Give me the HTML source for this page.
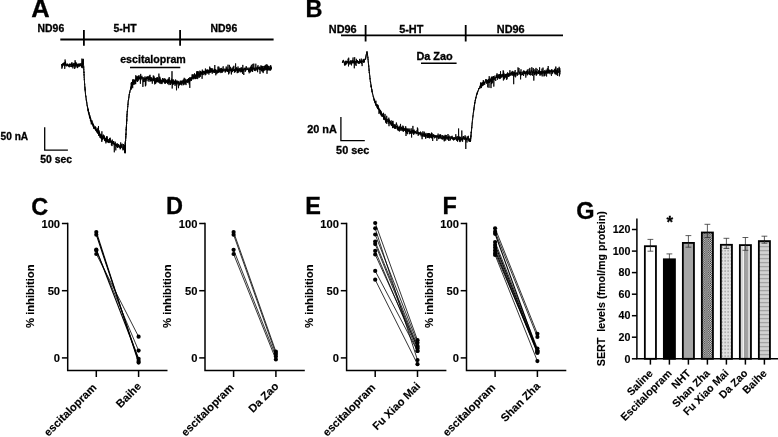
<!DOCTYPE html><html><head><meta charset="utf-8"><title>Figure</title>
<style>html,body{margin:0;padding:0;background:#fff;overflow:hidden}svg{display:block}text{font-family:"Liberation Sans",Arial,sans-serif;font-weight:bold;fill:#000;stroke:#000;stroke-width:0.3px}.t text,text.t{stroke-width:0.12px}</style></head><body>
<svg width="778" height="437" viewBox="0 0 778 437">
<rect width="778" height="437" fill="#fff"/>
<defs>
<pattern id="pchk" width="2.2" height="2.2" patternUnits="userSpaceOnUse" x="0.3"><rect width="2.2" height="2.2" fill="#e8e8e8"/><rect width="1.1" height="1.1" fill="#222"/><rect x="1.1" y="1.1" width="1.1" height="1.1" fill="#222"/></pattern>
<pattern id="pdot" width="3" height="3.4" patternUnits="userSpaceOnUse" x="0.6" y="0.8"><rect width="3" height="3.4" fill="#e0e0e0"/><rect x="1" y="1.2" width="1" height="1" fill="#5a5a5a"/></pattern>
<linearGradient id="gvs" x1="0" x2="1" y1="0" y2="0"><stop offset="0" stop-color="#d6d6d6"/><stop offset="0.27" stop-color="#d6d6d6"/><stop offset="0.27" stop-color="#f2f2f2"/><stop offset="0.36" stop-color="#f2f2f2"/><stop offset="0.36" stop-color="#9c9c9c"/><stop offset="0.72" stop-color="#a4a4a4"/><stop offset="0.72" stop-color="#d2d2d2"/><stop offset="1" stop-color="#d2d2d2"/></linearGradient>
<pattern id="phs" width="4" height="4" patternUnits="userSpaceOnUse" y="0.9"><rect width="4" height="4" fill="#d2d2d2"/><rect width="4" height="0.7" fill="#f6f6f6"/><rect y="0.7" width="4" height="1.6" fill="#a0a0a0"/></pattern>
</defs>
<text x="31.2" y="17.2" font-size="25.5">A</text>
<text x="305.6" y="17.2" font-size="23.5">B</text>
<text x="31.3" y="214.5" font-size="23.5">C</text>
<text x="166.0" y="214.3" font-size="23.5">D</text>
<text x="305.3" y="214.3" font-size="23.5">E</text>
<text x="442.6" y="214.3" font-size="23.5">F</text>
<text x="576.2" y="218.6" font-size="23.5">G</text>
<g font-size="10.4">
<text x="37.6" y="32.3">ND96</text>
<text x="113.4" y="32.3">5-HT</text>
<text x="210.6" y="32.3">ND96</text>
<text x="120.2" y="62.8" font-size="10.65">escitalopram</text>
<text x="0.6" y="139.9" font-size="10.1">50 nA</text>
<text x="40.2" y="162.9">50 sec</text>
</g>
<g stroke="#000" stroke-width="1.8" fill="none">
<path d="M60.3 39.5H273.6M83.9 30V45.7M180.1 30V45.7"/>
<path d="M130 67.5H180.3" stroke-width="1.6"/>
<path d="M44.7 127.3V150.1H67.9" stroke-width="1.3"/>
</g>
<polyline points="61.5,64.5 61.9,65.1 62.3,64.7 62.7,64.4 63.1,65.0 63.5,63.2 63.9,63.8 64.3,63.8 64.7,64.5 65.1,64.4 65.5,64.6 65.9,65.1 66.3,65.4 66.7,65.2 67.1,63.7 67.5,65.3 67.9,64.7 68.3,66.2 68.7,65.4 69.1,64.8 69.5,64.7 69.9,63.9 70.3,64.9 70.7,63.8 71.1,65.1 71.5,63.2 71.9,62.5 72.3,66.1 72.7,66.1 73.1,65.9 73.5,63.2 73.9,63.5 74.3,63.5 74.7,63.3 75.1,65.0 75.5,64.4 75.9,64.8 76.3,64.4 76.7,64.1 77.1,66.6 77.5,65.3 77.9,63.9 78.3,65.9 78.7,64.2 79.1,64.6 79.5,66.0 79.9,64.1 80.3,64.3 80.7,64.5 81.1,66.3 81.5,66.5 81.9,65.0 82.3,66.4 82.4,63.2 82.4,63.8 82.5,64.7 82.5,63.2 82.6,62.8 82.7,62.4 82.7,62.1 82.8,61.6 82.9,61.0 82.9,60.8 83.0,60.2 83.0,60.1 83.1,59.4 83.2,59.1 83.2,59.3 83.2,59.6 83.3,60.3 83.3,60.4 83.3,60.4 83.3,61.3 83.3,61.6 83.4,61.9 83.4,62.2 83.4,62.7 83.4,63.2 83.4,63.6 83.5,64.0 83.5,64.4 83.5,64.8 83.5,65.0 83.6,65.6 83.6,66.0 83.6,66.6 83.6,66.8 83.6,67.0 83.7,67.7 83.7,68.1 83.7,68.3 83.7,68.6 83.8,69.6 83.8,69.3 83.8,69.9 83.8,70.4 83.8,70.6 83.9,71.1 83.9,71.6 83.9,71.9 83.9,72.2 84.0,72.7 84.0,73.1 84.0,73.7 84.0,73.8 84.0,74.6 84.1,74.5 84.1,75.3 84.1,75.9 84.1,76.1 84.2,76.3 84.2,77.0 84.2,77.3 84.2,77.6 84.3,77.9 84.3,78.3 84.3,78.7 84.3,79.5 84.3,79.6 84.4,80.0 84.4,80.3 84.4,80.8 84.4,81.1 84.5,81.5 84.5,82.0 84.5,82.3 84.5,82.8 84.6,83.1 84.6,83.5 84.6,84.0 84.6,84.5 84.7,84.4 84.7,85.1 84.7,85.5 84.8,85.9 84.8,86.5 84.8,86.8 84.9,87.1 84.9,87.4 85.0,88.0 85.0,88.1 85.0,88.7 85.1,89.1 85.1,89.5 85.1,89.9 85.2,90.2 85.2,90.6 85.2,91.1 85.3,91.4 85.3,92.1 85.4,92.4 85.4,92.6 85.4,93.2 85.5,93.5 85.5,94.0 85.5,94.5 85.6,94.8 85.6,95.0 85.7,95.6 85.7,95.9 85.8,96.4 85.9,96.7 85.9,96.9 86.0,97.0 86.0,97.8 86.1,98.2 86.2,98.6 86.2,99.4 86.3,99.5 86.3,100.0 86.4,100.1 86.4,100.8 86.5,100.9 86.6,101.2 86.6,101.8 86.7,102.2 86.7,102.5 86.8,103.2 86.9,103.4 86.9,103.6 87.0,103.5 87.0,104.7 87.1,105.1 87.2,105.5 87.3,105.7 87.4,106.1 87.4,106.7 87.5,106.9 87.6,107.4 87.7,107.9 87.8,108.3 87.8,108.4 87.9,108.9 88.0,109.4 88.1,109.5 88.2,110.5 88.3,109.6 88.3,111.1 88.4,111.1 88.5,112.8 88.6,112.1 88.7,112.2 88.8,112.7 88.8,112.7 88.9,113.9 89.0,113.9 89.1,114.3 89.2,115.0 89.4,115.4 89.5,115.4 89.6,115.5 89.7,116.9 89.8,116.9 89.9,117.2 90.0,117.9 90.2,117.8 90.3,119.0 90.4,118.6 90.5,118.9 90.6,119.5 90.7,119.6 90.8,120.1 91.0,120.6 91.1,120.6 91.2,121.6 91.3,121.7 91.5,123.1 91.7,122.1 91.9,122.4 92.1,122.7 92.2,123.7 92.4,124.0 92.6,123.7 92.8,125.1 93.0,124.0 93.1,124.8 93.3,125.4 93.5,126.0 93.7,125.8 93.9,127.5 94.0,127.8 94.3,127.5 94.5,127.8 94.8,128.0 95.0,128.4 95.2,129.2 95.5,129.6 95.7,129.7 95.9,129.4 96.2,129.0 96.4,129.1 96.7,130.8 96.9,129.9 97.1,130.9 97.4,132.4 97.6,132.2 97.9,132.3 98.1,132.6 98.4,133.3 98.6,133.7 98.9,131.8 99.2,132.8 99.4,132.6 99.7,134.3 99.9,136.4 100.2,135.1 100.5,135.3 100.7,136.4 101.0,137.6 101.3,135.5 101.5,134.6 101.8,141.8 102.1,136.7 102.4,136.1 102.7,138.6 103.1,135.5 103.4,137.5 103.8,135.0 104.1,139.2 104.4,137.8 104.8,138.8 105.1,139.7 105.4,139.0 105.8,141.5 106.1,139.4 106.5,136.4 106.8,140.7 107.1,141.0 107.5,141.3 107.8,139.0 108.2,140.3 108.5,140.9 108.9,142.0 109.2,141.2 109.6,142.7 109.9,142.5 110.3,142.5 110.6,141.3 111.0,140.5 111.3,142.6 111.7,143.9 112.0,143.7 112.4,142.2 112.7,143.9 113.1,143.5 113.5,144.1 113.8,142.6 114.2,143.0 114.6,143.9 114.9,145.3 115.3,144.1 115.7,144.7 116.0,146.0 116.4,144.4 116.8,144.6 117.1,144.6 117.5,147.8 117.9,145.1 118.2,144.4 118.6,144.4 119.0,146.3 119.3,146.4 119.7,146.9 120.1,147.7 120.4,146.9 120.8,145.8 121.2,145.2 121.5,147.4 121.9,148.0 122.3,148.4 122.6,148.2 123.0,147.2 123.4,148.5 123.7,146.5 124.1,146.9 124.5,146.7 124.6,149.6 124.7,149.9 124.7,150.3 124.8,151.6 124.9,149.3 125.0,151.1 125.0,150.4 125.0,149.7 125.1,150.7 125.1,149.2 125.1,148.1 125.1,150.3 125.1,147.9 125.2,147.8 125.2,148.3 125.2,147.1 125.2,146.7 125.3,146.4 125.3,146.2 125.3,145.3 125.3,145.4 125.3,144.9 125.4,144.4 125.4,144.1 125.4,143.4 125.4,143.2 125.4,142.9 125.5,142.4 125.5,141.7 125.5,141.5 125.5,140.9 125.6,140.6 125.6,140.2 125.6,140.1 125.6,139.8 125.6,139.1 125.7,138.9 125.7,138.3 125.7,137.8 125.7,138.0 125.8,137.5 125.8,137.0 125.8,136.0 125.8,135.9 125.9,135.6 125.9,135.2 125.9,134.6 125.9,134.8 126.0,133.6 126.0,133.6 126.0,133.0 126.0,132.7 126.1,132.4 126.1,131.8 126.1,131.6 126.1,130.9 126.2,130.4 126.2,130.4 126.2,129.7 126.2,129.6 126.2,128.9 126.3,128.6 126.3,128.4 126.3,127.8 126.3,127.9 126.4,127.2 126.4,127.0 126.4,126.2 126.4,126.2 126.4,125.6 126.5,125.3 126.5,124.7 126.5,124.6 126.5,124.3 126.5,123.4 126.6,123.0 126.6,123.5 126.6,122.2 126.6,121.9 126.6,121.5 126.7,120.9 126.7,120.7 126.7,120.3 126.7,119.6 126.8,119.7 126.8,119.2 126.8,118.3 126.8,118.4 126.8,118.3 126.9,117.4 126.9,117.2 126.9,117.1 126.9,116.0 126.9,116.2 127.0,115.9 127.0,115.4 127.0,114.6 127.1,114.7 127.1,113.9 127.1,113.8 127.2,113.4 127.2,112.7 127.2,112.4 127.3,111.8 127.3,111.4 127.3,111.1 127.4,110.8 127.4,110.3 127.5,109.9 127.5,109.6 127.5,109.1 127.6,108.8 127.6,108.3 127.6,108.2 127.7,107.8 127.7,107.4 127.7,106.6 127.8,106.5 127.8,105.9 127.9,105.6 127.9,105.3 127.9,104.9 128.0,104.3 128.0,104.2 128.0,104.1 128.1,103.4 128.1,102.7 128.1,102.4 128.2,102.0 128.2,101.5 128.3,101.1 128.3,100.8 128.4,100.3 128.5,99.8 128.5,99.6 128.6,99.2 128.6,99.0 128.7,98.7 128.8,97.8 128.8,97.7 128.9,97.4 128.9,96.7 129.0,96.4 129.0,96.1 129.1,95.6 129.2,95.4 129.2,95.2 129.3,94.8 129.3,94.0 129.4,93.6 129.5,93.5 129.5,92.9 129.6,92.5 129.7,92.3 129.8,91.6 129.9,91.6 130.0,90.9 130.1,90.6 130.3,90.1 130.4,89.9 130.5,89.3 130.6,88.7 130.7,88.5 130.8,88.3 130.9,87.6 131.0,87.6 131.1,88.9 131.2,86.4 131.3,87.1 131.5,85.6 131.7,86.6 131.8,85.0 132.0,82.6 132.2,84.0 132.4,85.5 132.6,83.7 132.8,82.7 132.9,83.4 133.2,81.3 133.5,84.3 133.8,81.3 134.1,82.6 134.4,82.5 134.7,81.2 135.0,79.9 135.4,81.1 135.6,80.7 135.9,80.4 136.2,78.2 136.5,79.9 136.8,79.3 137.1,79.3 137.4,79.0 137.7,78.1 138.0,77.1 138.3,79.0 138.7,75.5 139.0,77.0 139.4,77.8 139.8,79.4 140.1,78.1 140.5,78.4 140.9,77.0 141.3,76.8 141.6,78.1 142.0,78.0 142.4,78.0 142.8,78.3 143.2,77.7 143.6,78.1 144.0,78.2 144.3,80.0 144.7,78.3 145.1,78.6 145.5,79.4 145.9,79.5 146.3,79.5 146.7,76.9 147.1,78.6 147.5,78.6 147.9,78.4 148.3,79.2 148.7,79.9 149.1,79.4 149.5,78.5 149.9,78.5 150.3,77.5 150.7,77.0 151.1,80.7 151.5,79.4 151.9,77.8 152.3,79.1 152.7,79.8 153.1,79.9 153.5,78.3 153.9,79.2 154.3,81.1 154.7,82.9 155.0,79.8 155.4,78.6 155.8,79.1 156.2,79.2 156.6,79.7 157.0,82.3 157.4,82.0 157.8,78.1 158.2,80.1 158.6,80.6 159.0,80.0 159.4,80.1 159.8,80.1 160.2,82.0 160.6,81.0 161.0,79.9 161.4,82.6 161.8,81.7 162.2,79.4 162.6,78.1 163.0,80.9 163.4,81.4 163.8,79.7 164.2,82.3 164.6,81.5 165.0,83.3 165.4,79.7 165.8,79.5 166.2,81.7 166.6,81.2 167.0,82.3 167.4,80.6 167.8,82.4 168.2,78.8 168.5,80.5 168.9,82.1 169.3,80.0 169.7,80.6 170.1,81.5 170.5,82.5 170.9,83.2 171.3,81.0 171.7,81.0 172.1,84.0 172.5,84.8 172.9,81.9 173.3,81.8 173.7,83.1 174.1,83.4 174.5,81.1 174.9,84.0 175.3,80.9 175.7,82.1 176.1,80.5 176.5,83.9 176.9,84.5 177.3,83.6 177.7,81.9 178.1,83.3 178.5,81.3 178.9,83.2 179.3,84.3 179.7,83.3 180.1,81.7 180.5,84.1 180.9,81.9 181.3,82.3 181.7,83.5 182.1,81.1 182.4,82.7 182.8,82.3 183.2,80.8 183.6,82.0 184.0,82.0 184.4,82.1 184.8,82.2 185.1,82.7 185.5,82.7 185.9,81.0 186.3,81.0 186.6,81.7 187.0,79.7 187.4,81.2 187.7,79.5 188.1,80.2 188.5,78.3 188.8,80.9 189.2,78.3 189.5,79.6 189.9,79.1 190.3,80.3 190.6,79.0 190.9,79.8 191.3,78.4 191.6,77.7 191.9,79.1 192.3,77.0 192.6,75.7 193.0,74.9 193.3,78.2 193.6,78.1 194.0,76.2 194.3,77.6 194.7,77.9 195.0,76.4 195.4,75.4 195.7,78.9 196.1,74.9 196.5,76.0 196.8,74.6 197.2,72.9 197.5,74.7 197.9,74.3 198.3,75.3 198.6,74.4 199.0,73.8 199.4,75.6 199.8,73.5 200.2,72.5 200.5,72.7 200.9,72.3 201.3,72.1 201.7,73.9 202.0,72.7 202.4,73.6 202.8,73.3 203.2,71.2 203.6,72.4 204.0,71.7 204.4,71.8 204.7,74.0 205.1,74.2 205.5,73.2 205.9,69.8 206.3,73.1 206.7,72.8 207.1,73.3 207.4,71.2 207.8,70.0 208.2,70.3 208.6,72.7 209.0,73.0 209.4,72.6 209.8,70.7 210.2,71.8 210.6,72.2 211.0,70.5 211.4,72.1 211.8,70.8 212.2,71.0 212.6,70.1 213.0,72.0 213.4,70.0 213.8,71.4 214.2,68.9 214.6,69.7 215.0,70.4 215.4,71.7 215.8,70.7 216.2,70.8 216.6,71.2 217.0,71.5 217.4,71.0 217.8,70.8 218.2,69.6 218.6,72.2 219.0,68.8 219.4,69.0 219.8,70.7 220.2,70.7 220.6,69.9 221.0,71.4 221.4,69.2 221.8,69.5 222.2,71.5 222.6,69.0 223.0,71.4 223.4,70.4 223.8,70.8 224.2,70.3 224.6,70.8 225.0,71.2 225.4,68.9 225.8,68.8 226.2,71.2 226.6,70.0 227.0,69.1 227.4,71.5 227.8,69.4 228.2,70.6 228.6,69.6 229.0,70.6 229.4,68.5 229.8,68.7 230.2,71.2 230.6,68.8 231.0,71.6 231.4,74.4 231.8,68.8 232.2,70.3 232.6,70.8 233.0,69.6 233.4,71.0 233.8,69.2 234.2,69.2 234.6,71.7 235.0,71.1 235.4,69.4 235.8,68.4 236.2,70.5 236.6,70.7 237.0,70.5 237.4,70.7 237.8,69.4 238.2,69.9 238.6,69.8 239.0,71.5 239.4,70.9 239.8,69.0 240.2,69.8 240.6,70.4 241.0,70.1 241.4,69.5 241.8,70.3 242.2,69.5 242.6,69.4 243.0,71.1 243.4,68.6 243.8,70.2 244.2,69.5 244.6,69.3 245.0,68.6 245.4,70.5 245.8,70.5 246.2,68.9 246.6,69.4 247.0,69.8 247.4,68.9 247.8,68.3 248.2,69.1 248.6,70.9 249.0,67.6 249.4,68.0 249.8,68.2 250.2,69.1 250.6,67.7 251.0,69.4 251.4,67.0 251.8,70.4 252.2,68.5 252.6,71.8 253.0,68.0 253.4,68.3 253.8,69.0 254.2,69.1 254.6,68.3 255.0,70.0 255.4,68.4 255.8,68.4 256.2,68.4 256.6,68.0 257.0,70.6 257.4,68.8 257.8,69.3 258.2,67.7 258.6,67.7 259.0,68.2 259.4,67.6 259.8,69.1 260.2,69.7 260.6,69.6 261.0,65.4 261.4,70.8 261.8,69.3 262.2,69.6 262.6,70.2 263.0,69.0 263.4,68.7 263.8,68.5 264.2,69.7 264.6,67.2 265.0,65.5 265.4,67.1 265.8,66.1 266.2,68.1 266.6,69.5 267.0,68.1 267.4,67.6 267.8,70.5 268.2,69.5 268.6,69.3 269.0,68.0 269.4,69.2 269.8,69.7 270.2,67.0 270.6,67.5 271.0,67.0 271.4,69.2" fill="none" stroke="#000" stroke-width="1" stroke-linejoin="round"/>
<polyline points="61.5,65.5 61.7,64.3 61.9,68.7 62.1,64.4 62.3,65.0 62.5,67.3 62.7,63.3 62.9,63.9 63.1,65.5 63.3,64.3 63.5,62.9 63.7,64.5 63.9,63.5 64.1,65.8 64.3,62.1 64.5,63.7 64.7,68.9 64.9,67.8 65.1,59.5 65.3,65.8 65.5,61.3 65.7,63.4 65.9,63.4 66.1,64.1 66.3,66.4 66.5,65.9 66.7,64.9 66.9,64.2 67.1,64.8 67.3,64.6 67.5,66.1 67.7,63.8 67.9,64.8 68.1,64.6 68.3,64.7 68.5,65.2 68.7,65.1 68.9,66.9 69.1,64.7 69.3,67.3 69.5,63.7 69.7,64.0 69.9,65.0 70.1,65.4 70.3,65.2 70.5,66.9 70.7,66.6 70.9,65.6 71.1,64.3 71.3,64.6 71.5,67.1 71.7,65.2 71.9,62.7 72.1,63.7 72.3,63.9 72.5,66.6 72.7,64.4 72.9,68.4 73.1,65.9 73.3,65.0 73.5,64.1 73.7,66.4 73.9,64.4 74.1,63.5 74.3,65.7 74.5,64.8 74.7,69.0 74.9,64.7 75.1,60.2 75.3,66.1 75.5,61.8 75.7,67.3 75.9,67.7 76.1,64.1 76.3,62.9 76.5,62.6 76.7,66.2 76.9,64.5 77.1,63.8 77.3,64.4 77.5,68.1 77.7,65.4 77.9,67.4 78.1,66.0 78.3,66.4 78.5,66.5 78.7,63.7 78.9,64.5 79.1,63.6 79.3,63.7 79.5,66.6 79.7,64.0 79.9,64.7 80.1,63.7 80.3,63.9 80.5,66.1 80.7,64.1 80.9,63.1 81.1,65.6 81.3,65.6 81.5,67.6 81.7,65.1 81.9,58.6 82.1,65.8 82.3,65.6 82.3,66.2 82.4,63.0 82.4,68.2 82.4,62.0 82.5,65.0 82.5,63.7 82.5,63.3 82.5,63.4 82.6,62.9 82.6,62.2 82.6,62.0 82.7,62.5 82.7,62.8 82.7,61.6 82.8,61.8 82.8,62.0 82.8,61.6 82.9,61.1 82.9,60.7 82.9,60.4 82.9,60.4 83.0,60.3 83.0,59.7 83.0,59.6 83.1,59.9 83.1,59.5 83.1,59.3 83.2,59.0 83.2,58.8 83.2,59.4 83.2,60.2 83.2,60.1 83.2,59.9 83.3,60.1 83.3,60.5 83.3,60.8 83.3,60.9 83.3,61.0 83.3,60.8 83.3,60.7 83.3,61.8 83.3,61.5 83.3,61.7 83.4,61.7 83.4,61.8 83.4,62.7 83.4,62.8 83.4,62.5 83.4,63.0 83.4,63.2 83.4,63.5 83.4,64.1 83.5,63.7 83.5,63.2 83.5,64.2 83.5,64.0 83.5,64.7 83.5,64.8 83.5,65.0 83.5,64.8 83.5,65.4 83.6,65.4 83.6,65.9 83.6,65.9 83.6,65.9 83.6,66.5 83.6,66.4 83.6,67.1 83.6,67.1 83.6,67.3 83.7,67.4 83.7,67.5 83.7,66.4 83.7,68.2 83.7,67.9 83.7,68.6 83.7,68.4 83.7,68.7 83.7,68.9 83.8,68.9 83.8,69.3 83.8,69.7 83.8,69.6 83.8,69.6 83.8,70.0 83.8,70.4 83.8,70.8 83.8,70.9 83.9,71.0 83.9,70.9 83.9,71.8 83.9,71.5 83.9,71.7 83.9,72.4 83.9,72.3 83.9,72.5 83.9,71.9 84.0,72.6 84.0,72.0 84.0,73.2 84.0,73.3 84.0,73.8 84.0,73.8 84.0,73.8 84.0,74.7 84.0,74.1 84.1,74.2 84.1,74.6 84.1,75.2 84.1,75.0 84.1,75.2 84.1,75.3 84.1,76.1 84.1,75.8 84.2,75.9 84.2,76.3 84.2,76.3 84.2,76.7 84.2,77.3 84.2,77.0 84.2,77.3 84.2,77.4 84.2,77.7 84.3,78.1 84.3,78.3 84.3,78.2 84.3,78.3 84.3,78.7 84.3,79.1 84.3,79.1 84.3,79.3 84.3,79.1 84.4,80.0 84.4,79.6 84.4,79.8 84.4,80.2 84.4,80.5 84.4,80.7 84.4,80.7 84.4,81.0 84.4,81.2 84.5,81.1 84.5,81.7 84.5,81.8 84.5,82.2 84.5,82.3 84.5,83.1 84.5,82.9 84.5,83.2 84.6,83.4 84.6,83.5 84.6,83.5 84.6,84.1 84.6,83.7 84.6,84.1 84.6,84.5 84.6,84.4 84.7,84.9 84.7,84.5 84.7,85.0 84.7,85.5 84.7,85.7 84.8,86.0 84.8,85.9 84.8,86.2 84.8,86.7 84.8,86.6 84.8,86.4 84.9,86.8 84.9,87.5 84.9,87.0 84.9,87.7 84.9,87.6 85.0,88.2 85.0,87.9 85.0,88.3 85.0,88.0 85.0,88.7 85.0,89.2 85.1,88.7 85.1,89.6 85.1,89.3 85.1,89.7 85.1,89.2 85.2,90.7 85.2,89.8 85.2,90.4 85.2,90.4 85.2,90.7 85.2,91.4 85.3,91.2 85.3,91.7 85.3,91.7 85.3,92.1 85.3,92.0 85.4,92.4 85.4,93.1 85.4,92.9 85.4,93.0 85.4,93.0 85.4,93.5 85.5,93.8 85.5,93.3 85.5,93.5 85.5,94.6 85.5,94.5 85.6,94.5 85.6,94.8 85.6,95.2 85.6,95.3 85.6,95.2 85.7,96.0 85.7,95.7 85.7,95.7 85.8,95.8 85.8,96.2 85.8,96.4 85.9,96.6 85.9,96.9 85.9,96.2 85.9,97.1 86.0,97.7 86.0,97.8 86.0,97.7 86.1,97.9 86.1,98.5 86.1,98.4 86.1,98.4 86.2,99.3 86.2,99.0 86.2,99.4 86.3,99.4 86.3,99.7 86.3,99.6 86.4,99.8 86.4,100.9 86.4,100.1 86.4,100.7 86.5,100.5 86.5,101.0 86.5,101.2 86.6,101.0 86.6,101.9 86.6,101.8 86.7,102.3 86.7,102.0 86.7,102.9 86.7,103.2 86.8,102.9 86.8,102.8 86.8,103.3 86.9,103.4 86.9,103.5 86.9,103.7 86.9,103.7 87.0,104.3 87.0,104.3 87.0,104.4 87.1,105.0 87.1,104.9 87.1,105.8 87.2,105.3 87.2,105.4 87.3,105.5 87.3,106.1 87.3,106.0 87.4,106.0 87.4,107.0 87.5,106.4 87.5,107.3 87.6,107.2 87.6,107.1 87.6,108.4 87.7,107.7 87.7,107.7 87.8,108.1 87.8,108.6 87.8,108.7 87.9,108.9 87.9,109.3 88.0,109.1 88.0,109.6 88.0,109.3 88.1,108.7 88.1,109.8 88.2,111.2 88.2,109.0 88.3,111.4 88.3,110.8 88.3,110.2 88.4,111.1 88.4,112.5 88.5,111.0 88.5,112.9 88.5,112.7 88.6,111.4 88.6,112.7 88.7,112.8 88.7,112.3 88.7,113.3 88.8,112.7 88.8,112.2 88.9,112.5 88.9,114.2 89.0,113.5 89.0,113.6 89.1,113.3 89.1,113.3 89.2,114.0 89.2,115.3 89.3,114.3 89.3,116.3 89.4,115.7 89.5,115.6 89.5,114.8 89.6,117.5 89.6,114.9 89.7,116.7 89.7,117.9 89.8,116.5 89.9,115.6 89.9,117.0 90.0,118.0 90.0,118.6 90.1,118.1 90.1,116.9 90.2,117.4 90.3,118.4 90.3,117.3 90.4,118.4 90.4,120.7 90.5,118.1 90.5,120.2 90.6,118.5 90.7,119.3 90.7,119.7 90.8,118.6 90.8,120.0 90.9,121.5 90.9,121.2 91.0,121.3 91.0,120.2 91.1,121.0 91.2,121.5 91.2,122.1 91.3,124.4 91.4,120.9 91.5,123.6 91.6,121.6 91.7,122.1 91.8,121.4 91.9,122.7 91.9,122.7 92.0,120.4 92.1,123.0 92.2,123.6 92.3,123.2 92.4,124.6 92.5,122.9 92.6,125.0 92.7,124.1 92.8,124.9 92.8,122.8 92.9,125.0 93.0,125.0 93.1,126.2 93.2,124.2 93.3,127.0 93.4,124.6 93.5,127.3 93.6,126.7 93.6,125.5 93.7,128.8 93.8,125.4 93.9,126.6 94.0,127.2 94.1,127.8 94.2,127.6 94.4,128.4 94.5,128.2 94.6,127.9 94.7,126.9 94.8,127.7 95.0,129.4 95.1,127.1 95.2,128.8 95.3,126.3 95.4,128.1 95.6,127.1 95.7,130.8 95.8,127.2 95.9,129.3 96.0,130.6 96.2,130.7 96.3,131.0 96.4,131.6 96.5,131.0 96.6,131.6 96.7,130.6 96.9,130.8 97.0,128.7 97.1,131.4 97.2,133.0 97.3,130.5 97.5,130.1 97.6,132.0 97.7,133.5 97.8,133.8 97.9,127.8 98.1,133.1 98.2,131.7 98.3,133.2 98.5,126.0 98.6,135.9 98.7,132.7 98.9,133.7 99.0,133.0 99.1,130.4 99.2,134.6 99.4,133.3 99.5,131.9 99.6,135.3 99.8,134.3 99.9,133.5 100.0,137.8 100.2,134.0 100.3,135.0 100.4,136.3 100.6,136.8 100.7,137.4 100.8,138.2 101.0,135.9 101.1,134.7 101.2,138.7 101.3,138.5 101.5,135.9 101.6,137.7 101.7,136.1 101.9,131.3 102.0,138.7 102.2,137.7 102.3,137.7 102.5,140.1 102.7,139.8 102.9,136.5 103.0,135.8 103.2,134.5 103.4,137.9 103.5,137.3 103.7,138.7 103.9,138.2 104.0,137.2 104.2,137.7 104.4,135.9 104.5,140.7 104.7,137.8 104.9,141.1 105.1,137.8 105.2,139.2 105.4,140.2 105.6,138.8 105.7,138.0 105.9,143.4 106.1,138.8 106.2,140.6 106.4,139.6 106.6,138.6 106.7,142.2 106.9,140.8 107.1,140.8 107.3,136.4 107.4,140.9 107.6,142.0 107.8,141.7 107.9,140.5 108.1,142.9 108.3,141.3 108.5,142.0 108.6,142.9 108.8,142.9 109.0,139.1 109.2,142.0 109.3,140.2 109.5,138.2 109.7,142.2 109.9,138.8 110.0,141.1 110.2,137.7 110.4,140.3 110.6,141.4 110.7,142.3 110.9,141.4 111.1,140.9 111.3,141.0 111.4,145.3 111.6,141.0 111.8,142.7 112.0,146.1 112.2,140.1 112.3,139.6 112.5,141.5 112.7,142.7 112.9,141.5 113.0,143.4 113.2,143.4 113.4,141.0 113.6,144.0 113.8,141.4 113.9,145.1 114.1,144.4 114.3,152.3 114.5,145.6 114.7,143.4 114.9,144.9 115.0,144.6 115.2,141.7 115.4,142.1 115.6,146.5 115.8,150.4 116.0,144.0 116.1,144.4 116.3,144.1 116.5,146.7 116.7,147.2 116.9,143.7 117.1,144.7 117.2,143.3 117.4,145.8 117.6,146.8 117.8,147.4 118.0,145.2 118.2,144.1 118.3,146.8 118.5,146.9 118.7,144.7 118.9,146.4 119.1,146.8 119.3,147.7 119.4,146.4 119.6,147.2 119.8,146.8 120.0,144.9 120.2,149.3 120.4,146.9 120.6,148.6 120.7,142.4 120.9,145.8 121.1,147.6 121.3,144.2 121.5,146.7 121.7,146.5 121.8,146.6 122.0,147.0 122.2,143.7 122.4,147.7 122.6,147.8 122.8,149.5 122.9,150.3 123.1,149.2 123.3,149.6 123.5,144.0 123.7,149.1 123.9,150.1 124.0,149.8 124.2,148.8 124.4,147.9 124.5,148.0 124.6,148.8 124.6,149.7 124.6,150.2 124.7,149.2 124.7,144.9 124.8,152.9 124.8,148.5 124.8,145.6 124.9,152.8 124.9,152.3 125.0,151.1 125.0,152.6 125.0,151.6 125.0,149.2 125.0,150.6 125.0,148.1 125.1,148.9 125.1,148.4 125.1,149.9 125.1,153.4 125.1,148.2 125.1,149.8 125.1,145.2 125.1,146.8 125.1,149.4 125.2,149.9 125.2,149.7 125.2,151.8 125.2,141.5 125.2,146.6 125.2,146.5 125.2,147.0 125.2,146.9 125.2,146.5 125.2,146.2 125.3,146.5 125.3,146.2 125.3,145.9 125.3,145.5 125.3,145.5 125.3,145.3 125.3,145.1 125.3,145.0 125.3,144.6 125.4,144.0 125.4,144.2 125.4,144.2 125.4,143.7 125.4,143.7 125.4,143.2 125.4,143.7 125.4,143.2 125.4,142.9 125.5,142.9 125.5,142.7 125.5,142.3 125.5,142.4 125.5,142.1 125.5,141.7 125.5,141.5 125.5,140.9 125.5,141.1 125.6,140.9 125.6,140.4 125.6,140.9 125.6,140.3 125.6,139.7 125.6,139.7 125.6,139.6 125.6,139.4 125.6,139.0 125.7,139.1 125.7,138.4 125.7,138.5 125.7,138.7 125.7,138.1 125.7,138.3 125.7,138.1 125.7,137.5 125.8,136.7 125.8,137.5 125.8,137.5 125.8,136.4 125.8,136.7 125.8,136.6 125.8,135.8 125.8,135.9 125.8,136.2 125.9,135.7 125.9,135.5 125.9,135.6 125.9,134.9 125.9,134.3 125.9,135.1 125.9,134.2 125.9,134.3 126.0,134.4 126.0,134.0 126.0,133.7 126.0,133.3 126.0,133.4 126.0,134.5 126.0,132.7 126.0,132.3 126.1,132.6 126.1,132.1 126.1,132.1 126.1,131.9 126.1,131.8 126.1,131.5 126.1,131.4 126.1,131.5 126.1,130.3 126.2,130.7 126.2,130.6 126.2,129.9 126.2,129.8 126.2,129.8 126.2,129.5 126.2,130.2 126.2,129.3 126.2,130.0 126.3,128.8 126.3,128.6 126.3,129.2 126.3,128.1 126.3,128.7 126.3,127.0 126.3,127.5 126.3,127.9 126.3,127.8 126.4,127.2 126.4,126.7 126.4,126.6 126.4,126.7 126.4,126.4 126.4,126.4 126.4,125.4 126.4,125.9 126.4,125.9 126.5,127.4 126.5,125.3 126.5,125.1 126.5,124.4 126.5,124.1 126.5,122.8 126.5,124.2 126.5,124.5 126.5,123.7 126.5,122.7 126.6,123.4 126.6,123.0 126.6,122.7 126.6,123.9 126.6,122.9 126.6,122.7 126.6,121.9 126.6,122.0 126.6,121.4 126.7,121.8 126.7,121.0 126.7,121.5 126.7,121.0 126.7,120.8 126.7,120.1 126.7,120.5 126.7,119.6 126.7,119.5 126.8,119.4 126.8,120.9 126.8,119.3 126.8,118.9 126.8,119.1 126.8,119.4 126.8,118.5 126.8,118.0 126.8,117.8 126.8,117.9 126.9,118.2 126.9,117.5 126.9,117.2 126.9,116.8 126.9,116.6 126.9,117.0 126.9,116.6 126.9,116.4 126.9,115.7 127.0,116.1 127.0,115.8 127.0,116.0 127.0,115.6 127.0,115.0 127.0,115.0 127.0,114.8 127.0,114.5 127.1,114.0 127.1,114.7 127.1,114.6 127.1,113.7 127.1,114.0 127.2,113.2 127.2,113.0 127.2,112.9 127.2,112.6 127.2,112.8 127.2,112.7 127.3,111.3 127.3,112.2 127.3,111.8 127.3,112.0 127.3,111.0 127.4,111.1 127.4,111.3 127.4,111.0 127.4,111.0 127.4,110.1 127.4,109.9 127.5,110.1 127.5,109.3 127.5,109.8 127.5,109.6 127.5,109.2 127.6,108.5 127.6,108.5 127.6,108.4 127.6,108.4 127.6,108.2 127.6,107.8 127.7,107.2 127.7,106.3 127.7,107.0 127.7,106.8 127.7,106.7 127.8,106.4 127.8,106.5 127.8,106.1 127.8,106.2 127.8,105.9 127.8,105.9 127.9,105.2 127.9,105.0 127.9,104.4 127.9,104.9 127.9,104.9 128.0,104.9 128.0,104.4 128.0,104.1 128.0,104.4 128.0,103.7 128.0,103.2 128.1,103.5 128.1,103.0 128.1,102.5 128.1,102.7 128.1,102.3 128.2,102.3 128.2,101.9 128.2,101.8 128.2,101.5 128.2,101.5 128.3,101.7 128.3,101.2 128.3,100.9 128.4,101.0 128.4,100.1 128.4,100.4 128.4,100.5 128.5,100.1 128.5,100.1 128.5,99.3 128.6,99.7 128.6,98.9 128.6,99.3 128.6,98.8 128.7,98.8 128.7,98.1 128.7,98.1 128.8,97.4 128.8,97.9 128.8,97.8 128.9,97.5 128.9,97.5 128.9,97.2 128.9,96.8 129.0,96.8 129.0,96.2 129.0,96.5 129.1,96.1 129.1,95.9 129.1,95.6 129.1,95.2 129.2,94.9 129.2,94.9 129.2,95.0 129.3,94.1 129.3,94.5 129.3,95.3 129.4,94.1 129.4,93.8 129.4,93.8 129.4,93.4 129.5,93.3 129.5,93.1 129.5,92.6 129.6,93.0 129.7,92.5 129.7,92.6 129.8,92.1 129.8,92.2 129.9,91.8 129.9,92.4 130.0,91.7 130.0,91.5 130.1,90.9 130.1,90.3 130.2,90.5 130.2,90.5 130.3,90.2 130.3,89.8 130.4,89.6 130.4,89.2 130.5,89.3 130.5,89.4 130.6,89.2 130.6,89.0 130.7,88.6 130.7,88.5 130.8,88.2 130.8,88.2 130.9,87.9 131.0,87.8 131.0,87.4 131.1,87.3 131.1,89.8 131.2,89.4 131.2,82.8 131.3,87.2 131.3,87.0 131.4,87.8 131.5,82.0 131.6,82.6 131.7,84.8 131.8,85.6 131.9,83.0 132.0,87.1 132.1,86.7 132.1,85.8 132.2,86.0 132.3,82.1 132.4,83.8 132.5,79.5 132.6,85.5 132.7,88.2 132.8,84.1 132.9,81.3 133.0,83.1 133.1,84.7 133.3,80.4 133.4,83.0 133.6,83.8 133.7,79.2 133.9,81.2 134.0,84.3 134.2,83.4 134.3,84.5 134.5,82.2 134.6,79.8 134.8,81.4 135.0,80.2 135.1,80.8 135.3,82.0 135.4,83.8 135.6,81.2 135.7,84.2 135.8,75.2 136.0,80.1 136.1,80.4 136.3,76.2 136.4,77.0 136.6,79.3 136.7,80.0 136.9,81.5 137.0,79.7 137.1,78.8 137.3,76.7 137.4,79.2 137.6,82.0 137.7,79.7 137.9,75.9 138.0,78.8 138.2,79.3 138.4,80.7 138.6,77.3 138.7,79.2 138.9,79.2 139.1,77.5 139.3,77.8 139.5,77.1 139.6,77.9 139.8,78.2 140.0,75.4 140.2,77.3 140.4,83.8 140.6,77.5 140.7,73.9 140.9,80.2 141.1,77.1 141.3,77.9 141.5,78.6 141.7,76.1 141.9,75.8 142.1,76.4 142.3,78.3 142.5,77.9 142.7,77.4 142.9,86.9 143.1,78.5 143.3,79.9 143.5,82.1 143.6,78.5 143.8,77.5 144.0,77.9 144.2,78.6 144.4,81.8 144.6,80.5 144.8,78.2 145.0,76.4 145.2,80.1 145.4,86.3 145.6,77.6 145.8,85.5 146.0,79.4 146.2,78.8 146.4,78.4 146.6,77.6 146.8,77.2 147.0,81.2 147.2,76.3 147.4,78.2 147.6,79.0 147.8,76.9 148.0,78.1 148.2,76.4 148.4,80.3 148.6,80.3 148.8,76.6 149.0,81.8 149.2,77.3 149.4,75.6 149.6,75.9 149.8,80.1 150.0,74.8 150.2,79.1 150.4,79.7 150.5,81.1 150.7,78.7 150.9,81.5 151.1,77.7 151.3,81.1 151.5,77.6 151.7,80.7 151.9,78.9 152.1,79.8 152.3,83.7 152.5,79.5 152.7,79.7 152.9,79.8 153.1,80.2 153.3,75.5 153.5,81.1 153.7,77.1 153.9,75.9 154.1,79.9 154.3,77.4 154.5,80.2 154.7,84.4 154.9,79.9 155.1,78.0 155.3,80.1 155.5,83.8 155.7,80.1 155.9,83.3 156.1,82.7 156.3,77.8 156.5,81.7 156.7,77.6 156.9,81.1 157.1,81.2 157.3,79.8 157.5,77.2 157.7,79.5 157.9,78.9 158.1,81.1 158.3,80.1 158.5,82.4 158.7,79.7 158.9,73.6 159.1,80.3 159.3,83.0 159.5,76.8 159.7,78.5 159.9,76.8 160.1,84.0 160.3,78.5 160.5,82.5 160.7,80.8 160.9,80.3 161.1,80.7 161.3,84.1 161.5,83.9 161.7,81.6 161.9,79.9 162.1,83.5 162.3,83.7 162.5,81.0 162.7,81.8 162.9,79.4 163.1,82.3 163.3,80.4 163.5,80.5 163.7,78.8 163.8,81.2 164.0,81.8 164.2,78.2 164.4,81.7 164.6,81.9 164.8,83.6 165.0,83.3 165.2,78.7 165.4,83.5 165.6,82.2 165.8,80.9 166.0,79.8 166.2,83.0 166.4,82.9 166.6,80.5 166.8,82.0 167.0,80.6 167.2,80.0 167.4,79.7 167.6,84.1 167.8,82.1 168.0,82.3 168.2,82.0 168.4,81.7 168.6,83.4 168.8,78.6 169.0,85.1 169.2,77.0 169.4,81.4 169.6,82.0 169.8,81.8 170.0,83.7 170.2,80.2 170.4,85.0 170.6,83.9 170.8,82.9 171.0,83.3 171.2,81.2 171.4,78.7 171.6,79.1 171.8,82.9 172.0,71.2 172.2,88.5 172.4,82.9 172.6,80.4 172.8,81.1 173.0,79.2 173.2,82.0 173.4,83.0 173.6,84.5 173.8,79.9 174.0,84.3 174.2,82.8 174.4,82.2 174.6,82.4 174.8,83.1 175.0,85.9 175.2,85.3 175.4,84.0 175.6,79.5 175.8,81.6 175.9,84.3 176.1,83.3 176.3,81.1 176.5,90.3 176.7,87.2 176.9,83.7 177.1,82.1 177.3,82.8 177.5,80.9 177.7,80.6 177.9,83.4 178.1,82.3 178.3,84.5 178.5,88.2 178.7,83.6 178.9,82.7 179.1,83.0 179.3,83.5 179.5,85.4 179.7,83.0 179.9,84.2 180.1,80.7 180.3,80.8 180.5,82.2 180.7,84.3 180.9,80.8 181.1,85.0 181.3,80.8 181.5,82.8 181.7,82.4 181.9,85.4 182.1,80.6 182.3,80.7 182.5,81.8 182.7,83.6 182.9,83.5 183.1,79.8 183.3,80.6 183.5,79.6 183.6,85.2 183.8,82.7 184.0,84.7 184.2,77.8 184.4,82.2 184.6,81.3 184.8,83.5 185.0,78.6 185.2,84.2 185.4,82.8 185.6,82.7 185.8,79.2 186.0,85.1 186.1,81.9 186.3,81.9 186.5,81.3 186.7,80.6 186.9,82.1 187.0,81.3 187.2,83.0 187.4,81.9 187.6,79.4 187.8,81.0 188.0,82.4 188.1,79.3 188.3,80.2 188.5,82.4 188.7,81.1 188.9,79.2 189.0,81.2 189.2,84.4 189.4,81.2 189.6,80.2 189.8,87.9 189.9,77.0 190.1,81.3 190.3,80.6 190.5,77.6 190.6,77.7 190.8,77.7 191.0,79.2 191.1,78.6 191.3,79.7 191.5,80.9 191.6,77.3 191.8,79.1 192.0,79.0 192.1,74.4 192.3,77.6 192.5,74.6 192.7,76.2 192.8,75.8 193.0,79.5 193.2,76.2 193.3,76.0 193.5,78.5 193.7,76.7 193.8,74.3 194.0,78.8 194.2,78.5 194.4,75.9 194.5,73.3 194.7,75.0 194.9,74.5 195.1,79.2 195.3,74.7 195.4,77.4 195.6,78.2 195.8,77.0 196.0,76.3 196.1,78.0 196.3,78.8 196.5,72.5 196.7,77.3 196.9,71.1 197.0,72.3 197.2,76.6 197.4,71.4 197.6,79.1 197.7,78.9 197.9,74.3 198.1,71.1 198.3,77.6 198.5,72.6 198.7,72.0 198.9,72.1 199.1,73.2 199.2,72.8 199.4,77.7 199.6,72.2 199.8,70.7 200.0,70.8 200.2,72.9 200.4,76.8 200.6,71.0 200.8,73.1 200.9,74.8 201.1,72.8 201.3,71.9 201.5,72.5 201.7,74.4 201.9,71.7 202.1,78.8 202.3,69.6 202.5,74.8 202.7,74.9 202.8,72.9 203.0,71.3 203.2,75.1 203.4,70.9 203.6,72.2 203.8,71.0 204.0,73.1 204.2,70.8 204.4,71.2 204.6,73.7 204.8,72.3 205.0,72.8 205.2,75.3 205.4,68.5 205.5,71.1 205.7,72.1 205.9,74.7 206.1,70.0 206.3,71.3 206.5,72.9 206.7,69.8 206.9,70.9 207.1,71.8 207.3,69.4 207.5,72.8 207.7,73.4 207.9,70.9 208.1,72.9 208.3,72.5 208.5,71.5 208.7,70.2 208.9,74.6 209.1,69.4 209.3,71.9 209.5,73.0 209.7,66.6 209.9,68.5 210.1,67.8 210.3,70.9 210.4,72.5 210.6,68.2 210.8,71.4 211.0,72.5 211.2,68.0 211.4,70.6 211.6,69.1 211.8,72.0 212.0,69.8 212.2,73.8 212.4,73.3 212.6,68.4 212.8,71.7 213.0,71.3 213.2,71.2 213.4,72.4 213.6,70.5 213.8,72.7 214.0,72.1 214.2,71.7 214.4,69.8 214.6,73.0 214.8,65.0 215.0,72.8 215.2,72.0 215.4,69.2 215.6,71.7 215.8,75.3 216.0,71.0 216.2,69.7 216.4,71.6 216.6,71.9 216.8,74.1 217.0,70.4 217.2,72.6 217.4,71.1 217.6,73.1 217.8,71.5 218.0,66.6 218.2,72.1 218.4,72.8 218.6,70.3 218.8,66.7 219.0,66.8 219.2,70.8 219.4,72.0 219.6,69.7 219.8,72.5 220.0,69.6 220.2,68.0 220.4,71.4 220.6,69.3 220.8,73.1 221.0,72.6 221.2,69.8 221.4,67.9 221.6,70.9 221.8,72.7 222.0,70.7 222.2,70.2 222.4,72.5 222.6,71.7 222.8,67.7 223.0,67.7 223.2,66.3 223.4,70.0 223.6,69.7 223.8,71.3 224.0,69.1 224.2,68.6 224.4,69.6 224.6,69.4 224.8,69.8 225.0,69.2 225.2,72.6 225.4,70.0 225.6,71.9 225.8,71.0 226.0,68.3 226.2,66.5 226.4,68.1 226.6,69.6 226.8,70.2 227.0,67.6 227.2,71.4 227.4,69.6 227.6,71.7 227.8,68.4 228.0,64.7 228.2,71.2 228.4,71.0 228.6,74.4 228.8,70.3 229.0,70.7 229.2,73.4 229.4,64.9 229.6,67.3 229.8,66.4 230.0,70.7 230.2,69.6 230.4,71.0 230.6,67.0 230.8,68.6 231.0,69.5 231.2,69.6 231.4,69.3 231.6,71.9 231.8,68.5 232.0,69.0 232.2,68.9 232.4,72.1 232.6,67.9 232.8,67.8 233.0,68.0 233.2,66.7 233.4,69.3 233.6,68.5 233.8,65.8 234.0,68.6 234.2,69.7 234.4,72.6 234.6,69.4 234.8,72.2 235.0,70.0 235.2,72.1 235.4,67.3 235.6,63.4 235.8,69.1 236.0,67.8 236.2,69.6 236.4,70.4 236.6,67.3 236.8,69.9 237.0,68.4 237.2,73.2 237.4,69.1 237.6,68.6 237.8,72.8 238.0,66.5 238.2,72.6 238.4,70.2 238.6,68.7 238.8,68.7 239.0,69.5 239.2,70.5 239.4,68.1 239.6,70.2 239.8,70.8 240.0,69.5 240.2,72.3 240.4,67.7 240.6,69.6 240.8,71.3 241.0,70.3 241.2,72.2 241.4,71.2 241.6,67.3 241.8,72.1 242.0,68.3 242.2,71.5 242.4,69.4 242.6,73.9 242.8,64.9 243.0,70.8 243.2,69.1 243.4,72.3 243.6,72.4 243.8,75.0 244.0,69.1 244.2,69.5 244.4,67.8 244.6,69.2 244.8,69.6 245.0,70.4 245.2,72.0 245.4,67.7 245.6,70.1 245.8,70.5 246.0,69.0 246.2,66.1 246.4,68.4 246.6,68.1 246.8,67.1 247.0,69.6 247.2,68.5 247.4,68.7 247.6,69.4 247.8,69.0 248.0,70.1 248.2,70.1 248.4,69.5 248.6,69.9 248.8,72.0 249.0,68.4 249.2,73.3 249.4,71.5 249.6,68.8 249.8,71.6 250.0,71.3 250.2,69.9 250.4,72.4 250.6,66.6 250.8,70.6 251.0,67.7 251.2,69.3 251.4,64.8 251.6,70.5 251.8,71.1 252.0,67.0 252.2,71.8 252.4,67.7 252.6,68.5 252.8,63.9 253.0,69.6 253.2,67.9 253.4,68.3 253.6,68.7 253.8,63.6 254.0,69.5 254.2,68.0 254.4,71.0 254.6,67.7 254.8,69.4 255.0,69.2 255.2,70.7 255.4,71.1 255.6,68.5 255.8,63.7 256.0,68.3 256.2,67.6 256.4,69.5 256.6,67.8 256.8,68.9 257.0,68.7 257.2,68.8 257.4,66.5 257.6,72.2 257.8,67.4 258.0,65.2 258.2,66.8 258.4,67.6 258.6,67.5 258.8,69.2 259.0,67.2 259.2,68.7 259.4,70.0 259.6,66.7 259.8,67.1 260.0,73.8 260.2,69.2 260.4,70.0 260.6,68.1 260.8,68.4 261.0,68.2 261.2,66.9 261.4,70.5 261.6,66.2 261.8,67.2 262.0,66.2 262.2,71.9 262.4,66.7 262.6,70.6 262.8,65.9 263.0,72.2 263.2,73.1 263.4,68.3 263.6,71.3 263.8,66.0 264.0,67.6 264.2,70.8 264.4,68.6 264.6,66.2 264.8,68.6 265.0,67.4 265.2,67.1 265.4,70.2 265.6,64.8 265.8,65.7 266.0,68.4 266.2,70.1 266.4,68.7 266.6,67.6 266.8,64.2 267.0,73.8 267.2,64.9 267.4,69.7 267.6,66.0 267.8,70.1 268.0,65.7 268.2,67.3 268.4,68.5 268.6,66.0 268.8,69.9 269.0,68.5 269.2,70.5 269.4,70.0 269.6,67.6 269.8,66.2 270.0,66.8 270.2,70.4 270.4,65.4 270.6,70.4 270.8,65.4 271.0,69.4 271.2,69.3 271.4,66.7" fill="none" stroke="#000" stroke-width="0.85" stroke-linejoin="round"/>
<g font-size="10.9">
<text x="328.8" y="33.1">ND96</text>
<text x="399.2" y="33.1">5-HT</text>
<text x="496.8" y="33.1">ND96</text>
<text x="416.4" y="59.7">Da Zao</text>
<text x="307.2" y="133">20 nA</text>
<text x="336.1" y="153.6">50 sec</text>
</g>
<g stroke="#000" stroke-width="1.8" fill="none">
<path d="M341 35.3H563M365.6 25V41.4M465.7 25V41.4"/>
<path d="M421 63.2H456.6" stroke-width="1.6"/>
<path d="M340.9 117V140.6H364.8" stroke-width="1.3"/>
</g>
<polyline points="342.3,63.0 342.7,62.2 343.1,61.9 343.5,62.1 343.9,61.9 344.3,62.2 344.7,63.4 345.1,62.9 345.5,62.6 345.9,61.0 346.3,60.9 346.7,62.6 347.1,62.3 347.5,61.3 347.9,62.4 348.3,61.2 348.7,63.7 349.1,61.4 349.5,62.7 349.9,62.1 350.3,62.7 350.7,63.4 351.1,63.6 351.5,63.3 351.9,63.0 352.3,61.3 352.7,63.0 353.1,61.1 353.5,62.4 353.9,61.6 354.3,63.8 354.7,63.8 355.1,61.0 355.5,61.5 355.9,61.3 356.3,61.9 356.7,62.4 357.1,62.6 357.5,60.7 357.9,62.6 358.3,63.7 358.7,61.4 359.1,62.1 359.5,61.6 359.9,61.9 360.3,60.8 360.7,61.6 361.1,61.8 361.5,61.4 361.9,62.0 362.3,60.8 362.7,61.1 363.1,60.9 363.5,61.4 363.9,59.4 364.1,61.9 364.3,60.2 364.5,59.9 364.8,59.7 365.0,59.6 365.2,59.0 365.4,58.7 365.5,58.3 365.6,58.0 365.7,57.8 365.8,57.3 365.9,56.9 366.0,56.4 366.0,56.0 366.1,55.4 366.2,55.1 366.3,54.7 366.4,54.3 366.5,54.2 366.5,53.7 366.6,53.3 366.7,52.8 366.8,52.4 366.9,52.0 367.0,51.5 367.0,51.8 367.1,52.2 367.1,52.7 367.2,52.7 367.3,53.4 367.3,53.7 367.4,54.2 367.4,54.3 367.5,54.8 367.5,55.1 367.6,55.6 367.7,56.1 367.7,56.6 367.8,56.9 367.8,57.3 367.9,57.8 367.9,57.9 367.9,58.4 368.0,59.0 368.0,59.0 368.1,59.4 368.1,60.1 368.1,60.1 368.2,60.7 368.2,61.2 368.3,61.6 368.3,62.1 368.3,62.2 368.4,62.6 368.4,63.0 368.5,63.5 368.5,64.0 368.5,64.2 368.6,64.9 368.6,65.2 368.7,65.4 368.7,66.3 368.7,66.6 368.8,66.7 368.8,67.2 368.9,67.3 368.9,68.2 368.9,68.2 369.0,68.6 369.0,69.2 369.1,69.4 369.1,69.8 369.1,70.5 369.2,71.0 369.2,71.3 369.3,71.6 369.3,72.2 369.3,72.3 369.4,72.7 369.4,73.3 369.5,73.5 369.5,73.9 369.6,74.5 369.6,74.7 369.7,75.2 369.7,75.6 369.7,75.9 369.8,76.5 369.8,76.8 369.9,77.3 369.9,77.5 370.0,78.0 370.0,78.4 370.1,78.5 370.1,79.1 370.1,79.5 370.2,79.8 370.3,80.3 370.3,80.7 370.4,80.9 370.4,81.5 370.5,82.0 370.5,82.2 370.6,82.7 370.7,82.9 370.7,83.4 370.8,83.7 370.8,84.1 370.9,84.6 371.0,85.2 371.0,85.8 371.1,85.9 371.1,86.3 371.2,86.5 371.3,87.3 371.3,87.0 371.4,87.6 371.5,88.1 371.6,88.7 371.6,89.3 371.7,89.5 371.8,89.8 371.9,89.7 371.9,90.8 372.0,90.9 372.1,91.3 372.2,91.8 372.3,92.4 372.3,92.4 372.4,92.8 372.5,93.3 372.6,93.7 372.7,94.4 372.8,94.5 372.9,94.8 373.0,95.4 373.1,95.5 373.2,96.1 373.3,96.6 373.4,96.9 373.5,97.3 373.6,97.7 373.7,97.6 373.8,98.2 373.9,98.9 374.0,99.0 374.1,100.1 374.3,100.1 374.4,100.5 374.5,101.1 374.7,101.2 374.8,101.9 375.0,102.2 375.1,102.5 375.3,103.4 375.4,102.4 375.5,103.0 375.7,103.9 375.8,103.9 376.0,104.6 376.2,105.6 376.4,105.2 376.6,104.8 376.8,106.3 377.0,105.5 377.2,107.3 377.4,107.1 377.6,106.4 377.9,107.2 378.1,108.6 378.3,108.4 378.5,107.6 378.7,107.5 378.9,109.0 379.1,109.7 379.3,109.9 379.5,108.9 379.7,109.5 379.9,111.7 380.1,111.1 380.3,110.8 380.5,111.9 380.7,111.2 380.9,112.4 381.1,114.2 381.3,113.1 381.5,113.9 381.7,114.8 381.9,115.1 382.2,114.2 382.4,115.3 382.7,115.1 382.9,116.8 383.2,116.7 383.4,115.8 383.7,119.6 383.9,116.8 384.1,116.5 384.4,117.4 384.6,118.5 384.9,117.6 385.2,118.4 385.5,121.7 385.8,118.8 386.1,119.4 386.4,119.7 386.6,120.4 386.9,120.4 387.2,121.4 387.5,121.0 387.8,121.2 388.1,121.8 388.4,121.3 388.7,120.9 389.0,119.3 389.3,122.0 389.6,122.5 390.0,122.1 390.3,121.4 390.6,122.9 390.9,122.7 391.2,125.0 391.6,124.4 391.9,123.2 392.2,125.0 392.5,124.7 392.8,123.2 393.2,125.2 393.5,124.6 393.9,125.4 394.3,127.4 394.6,127.3 395.0,125.3 395.4,128.1 395.7,125.9 396.1,126.5 396.4,127.2 396.8,125.9 397.2,127.8 397.5,127.3 397.9,130.4 398.3,127.1 398.7,127.8 399.1,127.3 399.4,127.1 399.8,127.7 400.2,128.2 400.6,128.6 401.0,127.8 401.3,128.3 401.7,126.8 402.1,128.8 402.5,128.3 402.9,128.5 403.3,130.5 403.6,130.5 404.0,128.1 404.4,129.5 404.8,128.8 405.2,130.1 405.5,128.7 405.9,127.8 406.3,128.6 406.7,130.8 407.1,130.4 407.4,131.3 407.8,130.0 408.2,131.1 408.6,131.7 409.0,130.0 409.3,131.0 409.7,132.2 410.1,131.0 410.5,132.6 410.9,131.2 411.3,131.7 411.6,132.1 412.0,131.7 412.4,131.7 412.8,129.9 413.2,131.3 413.6,133.6 414.0,132.6 414.4,130.7 414.7,131.0 415.1,133.2 415.5,132.0 415.9,132.0 416.3,132.9 416.7,132.8 417.1,132.5 417.5,133.2 417.9,133.9 418.3,131.8 418.6,134.4 419.0,134.5 419.4,134.2 419.8,132.5 420.2,134.0 420.6,134.7 421.0,132.8 421.4,132.7 421.8,133.5 422.2,134.0 422.6,133.9 423.0,133.5 423.4,133.2 423.7,132.9 424.1,134.4 424.5,135.4 424.9,133.8 425.3,135.6 425.7,138.7 426.1,135.2 426.5,135.9 426.9,135.2 427.3,134.5 427.7,134.5 428.1,134.9 428.5,134.8 428.9,134.3 429.3,134.1 429.7,135.3 430.1,134.9 430.5,136.5 430.8,136.3 431.2,137.8 431.6,132.6 432.0,135.9 432.4,135.9 432.8,136.3 433.2,135.0 433.6,134.5 434.0,135.0 434.4,138.3 434.8,137.2 435.2,136.2 435.6,136.1 436.0,136.4 436.4,136.9 436.8,135.5 437.2,137.4 437.6,135.9 438.0,136.3 438.4,137.9 438.8,137.7 439.2,136.1 439.6,135.4 440.0,137.7 440.4,137.6 440.8,134.8 441.2,135.8 441.6,136.5 442.0,137.5 442.4,136.9 442.8,136.9 443.2,136.8 443.6,137.0 443.9,137.8 444.3,137.3 444.7,138.1 445.1,136.6 445.5,138.3 445.9,137.5 446.3,138.4 446.7,137.3 447.1,137.4 447.5,136.8 447.9,138.2 448.3,138.4 448.7,137.4 449.1,137.6 449.5,137.6 449.9,138.3 450.3,137.7 450.7,136.7 451.1,136.4 451.5,137.6 451.9,138.6 452.3,138.8 452.7,137.5 453.1,138.6 453.5,138.3 453.9,137.9 454.3,137.4 454.7,138.0 455.1,137.8 455.5,138.5 455.9,138.4 456.3,138.7 456.7,139.3 457.1,140.8 457.5,140.3 457.9,139.7 458.3,139.7 458.7,137.6 459.1,139.1 459.5,137.2 459.9,137.1 460.3,136.9 460.7,138.7 461.1,140.2 461.5,138.7 461.9,139.2 462.3,140.1 462.7,140.0 463.1,138.4 463.5,138.6 463.9,139.0 464.3,138.8 464.7,139.0 465.1,135.4 465.5,139.5 465.9,138.2 466.3,137.8 466.7,138.8 467.1,139.6 467.5,139.2 467.9,138.0 468.3,140.6 468.7,140.1 469.1,139.4 469.5,140.3 469.9,138.5 470.1,139.3 470.2,140.8 470.3,140.2 470.4,140.7 470.5,140.9 470.6,140.3 470.6,140.7 470.6,139.3 470.7,139.1 470.7,138.9 470.7,138.1 470.8,138.1 470.8,137.6 470.8,137.3 470.9,136.7 470.9,136.3 470.9,135.8 471.0,135.5 471.0,135.7 471.0,135.1 471.1,134.5 471.1,133.8 471.1,133.8 471.2,133.3 471.2,132.4 471.3,132.6 471.3,131.9 471.3,131.4 471.4,131.4 471.4,130.9 471.5,130.7 471.5,129.8 471.5,129.5 471.6,128.9 471.6,128.6 471.7,128.4 471.7,128.1 471.7,128.0 471.8,127.2 471.8,126.9 471.9,126.6 471.9,125.8 471.9,125.4 472.0,125.2 472.0,124.9 472.1,124.5 472.1,123.9 472.1,123.8 472.2,123.2 472.2,123.1 472.3,122.4 472.3,122.1 472.3,121.6 472.4,121.2 472.4,120.7 472.5,120.2 472.5,119.9 472.5,119.8 472.6,119.2 472.6,118.8 472.7,118.4 472.7,118.2 472.8,117.8 472.8,116.9 472.9,117.0 472.9,116.3 473.0,116.1 473.0,115.9 473.1,115.5 473.1,114.8 473.2,114.5 473.2,114.3 473.3,113.3 473.3,113.3 473.4,112.9 473.4,112.5 473.5,112.0 473.5,111.6 473.6,111.5 473.7,110.9 473.7,110.8 473.8,110.0 473.8,109.6 473.9,109.1 473.9,109.0 474.0,108.5 474.0,108.1 474.1,107.5 474.1,107.4 474.2,107.2 474.3,106.8 474.3,106.0 474.4,105.7 474.4,105.7 474.5,104.9 474.5,104.7 474.6,103.9 474.6,103.8 474.7,102.7 474.8,103.1 474.9,102.3 475.0,102.3 475.0,101.7 475.1,101.4 475.2,101.2 475.3,100.4 475.4,100.2 475.4,99.9 475.5,99.4 475.6,99.0 475.7,98.7 475.8,98.5 475.9,98.0 476.0,97.7 476.1,97.2 476.2,96.9 476.3,96.1 476.4,96.0 476.5,95.5 476.6,95.3 476.7,94.6 476.8,94.5 476.9,94.0 477.0,93.7 477.1,93.5 477.3,93.9 477.4,92.5 477.5,92.1 477.7,91.7 477.8,91.3 478.0,91.3 478.1,90.6 478.3,90.6 478.4,90.3 478.6,89.5 478.8,88.9 478.9,88.6 479.1,88.5 479.3,88.4 479.4,87.8 479.6,87.3 479.8,87.1 479.9,86.5 480.2,86.9 480.5,85.3 480.8,85.4 481.0,85.3 481.3,84.5 481.6,84.3 481.9,83.5 482.2,82.5 482.5,83.6 482.8,83.0 483.1,85.6 483.4,81.1 483.8,83.5 484.1,83.9 484.4,83.3 484.8,83.0 485.1,81.5 485.4,81.5 485.8,82.1 486.2,82.3 486.6,81.2 486.9,82.1 487.3,79.8 487.7,82.3 488.0,81.7 488.4,81.3 488.8,81.6 489.1,80.4 489.5,82.8 489.9,80.1 490.3,80.6 490.6,79.5 491.0,79.6 491.4,76.7 491.7,84.1 492.1,80.6 492.5,79.3 492.8,78.5 493.2,76.6 493.6,78.0 493.9,78.1 494.3,77.9 494.7,78.5 495.0,77.9 495.4,77.6 495.8,77.2 496.2,77.8 496.6,77.4 497.0,74.5 497.3,77.7 497.7,76.6 498.1,76.2 498.5,75.6 498.9,78.3 499.3,75.6 499.6,76.3 500.0,76.8 500.4,75.6 500.8,76.2 501.2,76.0 501.6,76.9 502.0,74.1 502.4,75.1 502.8,75.7 503.2,73.8 503.6,76.5 503.9,73.3 504.3,76.2 504.7,75.6 505.1,74.2 505.5,77.0 505.9,75.2 506.3,73.9 506.7,75.0 507.1,73.5 507.5,72.5 507.9,75.0 508.3,75.2 508.7,74.1 509.1,75.4 509.5,73.8 509.9,74.3 510.3,75.4 510.6,75.7 511.0,75.2 511.4,74.5 511.8,72.4 512.2,73.6 512.6,73.3 513.0,75.6 513.4,74.4 513.8,74.5 514.2,74.8 514.6,73.1 515.0,74.2 515.4,74.3 515.8,72.8 516.2,74.2 516.6,73.1 517.0,73.9 517.4,72.6 517.8,74.2 518.2,74.6 518.6,73.8 519.0,73.9 519.4,71.9 519.8,74.1 520.2,71.8 520.6,73.5 521.0,72.2 521.4,72.6 521.8,73.3 522.2,73.7 522.6,75.1 523.0,72.5 523.4,72.3 523.8,71.1 524.2,71.5 524.6,72.0 525.0,73.1 525.4,74.0 525.8,73.2 526.2,71.2 526.6,72.0 527.0,73.6 527.4,72.5 527.8,72.7 528.2,73.0 528.6,73.1 529.0,73.6 529.4,71.0 529.8,73.4 530.2,73.0 530.6,71.7 531.0,73.3 531.4,74.8 531.8,74.3 532.2,73.1 532.6,71.6 533.0,72.7 533.4,72.2 533.8,72.0 534.2,73.5 534.6,74.4 535.0,72.3 535.4,71.3 535.8,71.8 536.2,72.7 536.6,71.4 537.0,71.6 537.4,72.0 537.8,73.1 538.2,73.7 538.6,72.2 539.0,71.7 539.4,73.0 539.8,72.1 540.2,73.4 540.6,71.8 541.0,72.7 541.4,74.4 541.8,71.2 542.2,72.6 542.6,72.4 543.0,71.2 543.4,73.2 543.8,71.6 544.2,72.6 544.6,73.9 545.0,72.3 545.4,72.0 545.8,72.6 546.2,71.8 546.6,72.4 547.0,71.5 547.4,71.3 547.8,72.6 548.2,70.3 548.6,73.3 549.0,72.4 549.4,72.4 549.8,71.2 550.2,72.1 550.6,71.9 551.0,70.4 551.4,71.9 551.8,69.2 552.2,72.0 552.6,70.7 553.0,72.2 553.4,72.0 553.8,71.3 554.2,70.3 554.6,72.7 555.0,71.0 555.4,73.9 555.8,66.6 556.2,70.9 556.6,71.4 557.0,72.8 557.4,72.9 557.8,71.7 558.2,71.9 558.6,72.5 559.0,72.0 559.4,69.3 559.8,70.6 560.2,71.6" fill="none" stroke="#000" stroke-width="1" stroke-linejoin="round"/>
<polyline points="342.3,62.5 342.5,62.0 342.7,60.6 342.9,62.4 343.1,61.8 343.3,61.6 343.5,59.9 343.7,61.6 343.9,62.0 344.1,61.3 344.3,63.5 344.5,65.4 344.7,62.9 344.9,63.6 345.1,65.5 345.3,63.1 345.5,65.0 345.7,60.8 345.9,62.1 346.1,64.6 346.3,63.5 346.5,62.4 346.7,63.9 346.9,63.0 347.1,63.2 347.3,61.7 347.5,62.7 347.7,62.8 347.9,61.4 348.1,58.7 348.3,62.1 348.5,66.4 348.7,57.7 348.9,60.7 349.1,61.8 349.3,62.7 349.5,64.1 349.7,64.0 349.9,64.4 350.1,64.6 350.3,61.1 350.5,62.1 350.7,60.3 350.9,63.8 351.1,61.5 351.3,60.6 351.5,65.4 351.7,61.9 351.9,61.0 352.1,63.5 352.3,60.0 352.5,61.2 352.7,60.9 352.9,58.7 353.1,57.5 353.3,61.9 353.5,60.9 353.7,60.9 353.9,63.3 354.1,60.5 354.3,68.3 354.5,59.1 354.7,57.2 354.9,61.6 355.1,62.6 355.3,64.8 355.5,61.1 355.7,61.3 355.9,61.3 356.1,66.0 356.3,58.8 356.5,62.5 356.7,61.8 356.9,60.2 357.1,61.2 357.3,62.0 357.5,60.4 357.7,61.8 357.9,62.9 358.1,63.1 358.3,61.0 358.5,61.3 358.7,61.8 358.9,63.1 359.1,61.9 359.3,63.7 359.5,62.5 359.7,58.9 359.9,63.3 360.1,60.4 360.3,62.4 360.5,61.5 360.7,63.0 360.9,61.5 361.1,61.6 361.3,58.6 361.5,63.7 361.7,61.4 361.9,60.6 362.1,66.1 362.3,62.2 362.5,61.6 362.7,62.0 362.9,61.3 363.1,59.3 363.3,58.9 363.5,62.6 363.6,62.8 363.8,61.9 364.0,61.5 364.1,62.4 364.2,62.6 364.3,61.2 364.4,62.0 364.5,60.3 364.6,59.8 364.7,60.0 364.8,59.3 365.0,58.9 365.1,59.4 365.2,58.9 365.3,59.4 365.4,58.4 365.5,59.1 365.5,58.3 365.6,58.2 365.6,57.7 365.7,59.1 365.7,57.5 365.7,57.9 365.8,57.2 365.8,56.7 365.9,56.6 365.9,56.9 365.9,56.3 366.0,56.2 366.0,56.4 366.1,56.1 366.1,55.4 366.2,55.3 366.2,55.6 366.2,54.9 366.3,55.1 366.3,54.7 366.4,54.1 366.4,54.3 366.5,53.9 366.5,53.9 366.5,53.5 366.6,53.6 366.6,53.3 366.7,53.3 366.7,52.6 366.7,52.7 366.8,52.8 366.8,52.6 366.9,52.4 366.9,52.1 367.0,51.5 367.0,51.6 367.0,51.8 367.1,51.9 367.1,52.2 367.1,52.2 367.1,52.7 367.2,52.6 367.2,52.7 367.2,52.7 367.3,53.5 367.3,53.2 367.3,53.4 367.3,53.5 367.4,54.6 367.4,54.7 367.4,54.2 367.5,53.6 367.5,54.7 367.5,54.9 367.5,55.1 367.6,55.5 367.6,55.4 367.6,55.8 367.7,56.1 367.7,56.3 367.7,56.5 367.7,56.5 367.8,56.8 367.8,57.2 367.8,56.9 367.8,57.7 367.9,57.5 367.9,58.1 367.9,57.6 367.9,58.3 367.9,58.3 368.0,58.9 368.0,58.8 368.0,58.8 368.0,59.7 368.0,59.2 368.1,59.3 368.1,59.6 368.1,59.8 368.1,60.0 368.1,60.2 368.2,60.8 368.2,61.0 368.2,61.3 368.2,61.7 368.2,61.5 368.3,61.6 368.3,61.5 368.3,61.9 368.3,62.2 368.3,62.7 368.4,62.4 368.4,63.2 368.4,63.4 368.4,63.1 368.4,63.3 368.5,63.6 368.5,63.6 368.5,63.7 368.5,64.1 368.5,64.5 368.6,64.0 368.6,65.0 368.6,65.4 368.6,65.5 368.6,65.8 368.7,65.2 368.7,65.5 368.7,66.9 368.7,66.3 368.7,66.7 368.8,66.6 368.8,66.9 368.8,66.7 368.8,67.0 368.8,67.6 368.9,67.6 368.9,67.8 368.9,68.2 368.9,68.0 368.9,68.0 369.0,68.4 369.0,68.7 369.0,69.4 369.0,68.9 369.0,69.8 369.1,69.7 369.1,70.0 369.1,70.3 369.1,70.2 369.1,70.6 369.2,70.3 369.2,71.0 369.2,71.2 369.2,70.6 369.2,70.8 369.3,71.5 369.3,71.7 369.3,73.2 369.3,72.7 369.3,72.1 369.4,72.8 369.4,72.7 369.4,72.9 369.4,72.8 369.5,73.3 369.5,73.8 369.5,73.6 369.5,74.1 369.5,74.2 369.6,74.8 369.6,74.7 369.6,74.9 369.6,75.0 369.7,75.0 369.7,75.6 369.7,75.4 369.7,75.9 369.7,75.9 369.8,76.2 369.8,76.8 369.8,76.7 369.8,76.9 369.9,76.8 369.9,77.1 369.9,77.4 369.9,77.3 369.9,77.5 370.0,78.0 370.0,78.8 370.0,78.0 370.0,78.6 370.1,78.6 370.1,79.0 370.1,79.2 370.1,79.0 370.1,79.2 370.2,79.8 370.2,80.0 370.2,80.2 370.2,80.5 370.3,80.7 370.3,81.3 370.3,81.0 370.4,81.1 370.4,81.2 370.4,81.9 370.5,82.0 370.5,81.7 370.5,81.8 370.5,82.0 370.6,83.0 370.6,82.9 370.6,82.9 370.7,82.6 370.7,82.9 370.7,83.6 370.7,83.7 370.8,83.9 370.8,84.0 370.8,84.0 370.9,84.5 370.9,84.6 370.9,84.4 371.0,84.9 371.0,85.3 371.0,85.4 371.0,85.8 371.1,86.3 371.1,85.3 371.1,87.1 371.2,86.2 371.2,86.6 371.2,87.0 371.3,86.3 371.3,87.3 371.3,87.4 371.4,87.3 371.4,87.9 371.5,87.9 371.5,88.2 371.5,88.0 371.6,88.8 371.6,89.0 371.6,89.5 371.7,89.0 371.7,89.7 371.8,89.5 371.8,90.0 371.8,89.6 371.9,90.0 371.9,90.4 371.9,91.5 372.0,90.4 372.0,91.2 372.1,91.1 372.1,91.5 372.1,91.4 372.2,90.9 372.2,92.3 372.2,91.9 372.3,92.4 372.3,92.3 372.4,92.8 372.4,93.2 372.4,93.2 372.5,93.0 372.5,93.5 372.6,93.8 372.6,93.5 372.7,94.2 372.7,94.4 372.8,94.4 372.8,94.8 372.9,95.0 372.9,95.1 373.0,95.2 373.0,95.3 373.0,95.9 373.1,96.3 373.1,96.4 373.2,96.4 373.2,96.1 373.3,96.2 373.3,97.0 373.4,96.9 373.4,97.5 373.5,97.4 373.5,97.6 373.6,97.9 373.6,97.9 373.7,97.6 373.7,98.7 373.8,98.5 373.8,98.9 373.9,98.8 374.0,99.1 374.0,99.2 374.1,100.6 374.2,100.0 374.2,98.8 374.3,100.5 374.4,100.4 374.5,100.4 374.5,101.3 374.6,99.3 374.7,101.2 374.7,101.2 374.8,102.0 374.9,102.0 375.0,102.5 375.0,101.1 375.1,102.9 375.2,101.3 375.2,102.4 375.3,102.4 375.4,103.4 375.5,102.9 375.5,103.6 375.6,103.9 375.7,103.4 375.7,105.5 375.8,104.2 375.9,100.7 376.0,103.5 376.0,103.9 376.1,104.6 376.2,104.4 376.4,105.5 376.5,104.7 376.6,106.2 376.7,106.0 376.8,104.3 376.9,105.6 377.0,105.4 377.1,106.8 377.2,107.8 377.3,105.2 377.4,106.1 377.5,109.1 377.6,104.5 377.7,107.8 377.8,105.5 377.9,107.4 378.0,107.4 378.1,106.6 378.2,105.4 378.4,109.2 378.5,108.1 378.6,110.1 378.7,107.9 378.8,108.5 378.9,110.7 379.0,113.9 379.1,110.4 379.2,110.1 379.3,110.5 379.4,109.9 379.5,112.7 379.6,111.5 379.7,109.7 379.8,112.3 379.9,110.5 380.0,111.1 380.1,111.7 380.2,110.3 380.3,112.2 380.4,114.3 380.5,110.8 380.6,110.2 380.7,111.9 380.8,111.9 380.9,114.1 381.0,111.4 381.1,115.3 381.2,111.8 381.3,113.8 381.4,116.1 381.5,115.4 381.6,115.1 381.7,114.0 381.8,114.6 381.9,113.3 382.0,116.8 382.1,114.1 382.3,113.8 382.4,114.8 382.5,114.9 382.6,114.5 382.8,115.3 382.9,115.2 383.0,116.6 383.1,116.9 383.2,115.9 383.4,115.9 383.5,112.8 383.6,116.6 383.7,115.6 383.9,115.4 384.0,118.4 384.1,116.2 384.2,117.3 384.4,119.8 384.5,118.8 384.6,117.8 384.7,117.3 384.9,118.1 385.0,113.9 385.1,119.6 385.3,118.5 385.4,120.8 385.6,120.1 385.7,119.9 385.9,123.1 386.0,120.7 386.2,120.0 386.3,120.2 386.5,123.7 386.6,120.4 386.7,115.8 386.9,120.0 387.0,120.1 387.2,121.4 387.3,120.4 387.5,119.3 387.6,118.9 387.8,120.6 387.9,122.6 388.1,123.6 388.2,123.8 388.4,120.7 388.5,119.8 388.7,121.7 388.8,117.7 389.0,126.2 389.1,120.2 389.3,122.3 389.4,120.2 389.6,122.4 389.7,122.9 389.9,121.3 390.1,123.6 390.2,122.6 390.4,124.3 390.5,121.8 390.7,122.6 390.9,123.7 391.0,122.4 391.2,120.3 391.3,125.7 391.5,123.8 391.7,125.7 391.8,122.4 392.0,125.5 392.1,125.5 392.3,124.5 392.5,128.1 392.6,121.0 392.8,123.2 392.9,120.8 393.1,122.8 393.3,124.2 393.5,125.3 393.6,127.8 393.8,125.6 394.0,126.5 394.2,125.1 394.4,128.5 394.6,124.4 394.7,124.1 394.9,126.2 395.1,129.0 395.3,125.5 395.5,125.8 395.7,128.6 395.8,124.5 396.0,124.9 396.2,123.6 396.4,122.5 396.6,124.7 396.7,123.8 396.9,124.9 397.1,129.2 397.3,125.4 397.5,125.8 397.7,129.1 397.8,127.2 398.0,129.8 398.2,128.7 398.4,127.3 398.6,130.7 398.8,128.7 399.0,126.5 399.2,125.8 399.4,131.5 399.6,126.9 399.7,129.0 399.9,128.7 400.1,129.3 400.3,130.5 400.5,123.9 400.7,127.4 400.9,128.0 401.1,130.7 401.3,127.5 401.5,127.2 401.7,129.6 401.8,127.6 402.0,129.7 402.2,131.1 402.4,131.1 402.6,127.4 402.8,125.6 403.0,129.7 403.2,128.6 403.4,131.8 403.6,126.4 403.8,130.1 404.0,128.1 404.1,129.6 404.3,130.7 404.5,129.9 404.7,129.8 404.9,130.9 405.1,129.7 405.3,129.4 405.5,132.1 405.7,126.2 405.9,131.0 406.0,136.0 406.2,130.7 406.4,133.4 406.6,132.2 406.8,132.6 407.0,128.5 407.2,131.4 407.4,134.2 407.6,128.7 407.8,130.5 407.9,129.6 408.1,129.4 408.3,130.8 408.5,129.8 408.7,128.9 408.9,128.4 409.1,132.7 409.3,134.2 409.5,134.1 409.7,129.5 409.8,128.8 410.0,130.7 410.2,132.4 410.4,130.9 410.6,133.8 410.8,133.1 411.0,132.0 411.2,128.3 411.4,131.0 411.6,137.5 411.7,131.0 411.9,131.3 412.1,129.9 412.3,133.6 412.5,131.8 412.7,132.2 412.9,125.9 413.1,131.2 413.3,130.1 413.5,132.4 413.7,134.9 413.9,130.3 414.1,129.6 414.3,132.6 414.5,133.5 414.7,131.5 414.9,131.8 415.1,132.9 415.2,132.1 415.4,133.1 415.6,131.0 415.8,131.1 416.0,132.6 416.2,134.2 416.4,133.7 416.6,132.5 416.8,133.5 417.0,130.2 417.2,132.7 417.4,127.5 417.6,130.8 417.8,128.5 418.0,135.6 418.2,135.3 418.4,134.4 418.6,135.4 418.8,133.8 419.0,133.6 419.1,132.6 419.3,134.3 419.5,133.5 419.7,133.1 419.9,133.0 420.1,132.3 420.3,133.7 420.5,131.6 420.7,132.2 420.9,134.2 421.1,136.3 421.3,134.0 421.5,133.6 421.7,134.9 421.9,135.6 422.1,139.2 422.3,134.3 422.5,136.1 422.7,133.4 422.9,131.3 423.1,136.8 423.3,135.4 423.5,134.0 423.7,134.5 423.9,136.2 424.1,134.9 424.3,131.7 424.5,136.1 424.6,137.0 424.8,136.8 425.0,135.5 425.2,135.9 425.4,133.8 425.6,135.6 425.8,134.3 426.0,132.9 426.2,133.5 426.4,134.3 426.6,135.3 426.8,135.1 427.0,137.5 427.2,133.6 427.4,138.0 427.6,136.3 427.8,134.8 428.0,133.0 428.2,136.5 428.4,133.1 428.6,137.9 428.8,133.6 429.0,136.8 429.2,133.7 429.4,138.4 429.6,133.3 429.8,135.8 430.0,133.7 430.2,137.1 430.4,137.4 430.6,137.6 430.8,134.1 431.0,136.0 431.2,135.7 431.4,136.6 431.5,137.3 431.7,138.3 431.9,133.0 432.1,136.0 432.3,138.3 432.5,137.1 432.7,141.0 432.9,134.5 433.1,136.6 433.3,134.8 433.5,137.0 433.7,135.3 433.9,137.2 434.1,136.6 434.3,136.3 434.5,134.9 434.7,135.3 434.9,135.2 435.1,135.6 435.3,135.9 435.5,136.9 435.7,135.3 435.9,138.0 436.1,136.7 436.3,136.5 436.5,135.7 436.7,137.2 436.9,140.9 437.1,137.8 437.3,137.5 437.5,136.4 437.7,135.5 437.9,136.3 438.1,133.6 438.3,137.3 438.5,139.1 438.7,139.1 438.9,135.4 439.1,138.4 439.3,137.2 439.5,136.5 439.7,134.8 439.9,134.5 440.1,138.8 440.3,134.4 440.5,137.2 440.7,136.9 440.9,135.5 441.1,137.6 441.3,137.1 441.5,139.1 441.7,138.9 441.9,137.7 442.1,139.3 442.3,137.9 442.5,139.4 442.7,135.0 442.9,136.3 443.1,135.9 443.3,137.7 443.5,136.2 443.7,139.3 443.8,138.1 444.0,138.6 444.2,141.3 444.4,136.3 444.6,135.6 444.8,141.0 445.0,140.9 445.2,134.8 445.4,135.2 445.6,136.8 445.8,140.3 446.0,135.3 446.2,136.0 446.4,135.3 446.6,138.0 446.8,138.7 447.0,138.2 447.2,136.9 447.4,139.6 447.6,139.2 447.8,136.8 448.0,134.0 448.2,137.9 448.4,136.4 448.6,140.5 448.8,137.5 449.0,141.0 449.2,135.6 449.4,136.8 449.6,136.9 449.8,137.8 450.0,137.5 450.2,137.8 450.4,140.4 450.6,138.4 450.8,139.2 451.0,137.5 451.2,136.4 451.4,136.9 451.6,137.7 451.8,138.7 452.0,136.8 452.2,135.8 452.4,138.3 452.6,138.1 452.8,137.8 453.0,140.0 453.2,138.4 453.4,137.5 453.6,140.5 453.8,138.4 454.0,139.1 454.2,139.0 454.4,138.5 454.6,140.0 454.8,139.1 455.0,137.5 455.2,139.5 455.4,137.5 455.6,136.9 455.8,134.2 456.0,138.3 456.2,137.7 456.4,136.7 456.6,140.3 456.8,140.8 457.0,140.6 457.2,137.7 457.4,136.2 457.6,141.7 457.8,140.2 458.0,140.3 458.2,137.7 458.4,139.3 458.6,128.5 458.8,139.0 459.0,138.8 459.2,136.5 459.4,138.4 459.6,141.5 459.8,137.3 460.0,142.1 460.2,139.8 460.4,137.4 460.6,138.8 460.8,141.3 461.0,140.1 461.2,139.8 461.4,139.7 461.6,139.5 461.8,130.5 462.0,139.3 462.2,138.6 462.4,137.6 462.6,141.8 462.8,139.2 463.0,138.0 463.2,136.1 463.4,138.7 463.6,136.0 463.8,137.7 464.0,137.4 464.2,139.6 464.4,139.3 464.6,139.5 464.8,138.2 465.0,137.1 465.2,139.4 465.4,140.0 465.6,141.0 465.8,149.0 466.0,138.5 466.2,139.5 466.4,138.8 466.6,140.1 466.8,139.6 467.0,142.5 467.2,136.3 467.4,137.9 467.6,137.7 467.8,137.3 468.0,137.3 468.2,138.4 468.4,135.8 468.6,139.7 468.8,140.4 469.0,140.5 469.2,141.9 469.4,139.9 469.6,140.8 469.8,139.2 470.0,138.8 470.1,141.1 470.1,142.0 470.2,138.5 470.2,139.0 470.3,141.8 470.4,140.5 470.4,141.1 470.5,140.9 470.5,140.9 470.5,140.2 470.5,141.0 470.6,139.9 470.6,140.1 470.6,139.9 470.6,138.9 470.6,139.1 470.6,139.5 470.7,139.0 470.7,138.7 470.7,138.7 470.7,138.2 470.7,138.8 470.7,137.4 470.8,137.5 470.8,138.0 470.8,137.4 470.8,137.4 470.8,137.0 470.8,137.1 470.9,135.7 470.9,136.9 470.9,136.6 470.9,137.0 470.9,135.5 470.9,135.7 471.0,135.9 471.0,135.2 471.0,134.9 471.0,134.9 471.0,134.7 471.0,134.2 471.1,134.5 471.1,134.0 471.1,134.0 471.1,133.8 471.1,133.9 471.2,133.0 471.2,133.0 471.2,132.2 471.2,133.2 471.2,132.5 471.3,132.7 471.3,132.2 471.3,131.8 471.3,132.0 471.3,132.2 471.4,131.3 471.4,130.7 471.4,131.1 471.4,131.1 471.4,131.1 471.5,130.7 471.5,130.4 471.5,129.6 471.5,129.7 471.5,129.6 471.6,129.7 471.6,128.6 471.6,129.3 471.6,128.8 471.6,128.9 471.7,128.0 471.7,127.0 471.7,127.6 471.7,127.5 471.7,127.6 471.8,128.0 471.8,127.7 471.8,127.1 471.8,126.7 471.8,126.1 471.9,126.1 471.9,126.3 471.9,125.8 471.9,125.8 471.9,125.3 472.0,125.5 472.0,125.3 472.0,125.0 472.0,124.9 472.0,124.4 472.1,124.2 472.1,124.3 472.1,123.6 472.1,123.9 472.1,123.5 472.2,122.9 472.2,123.0 472.2,122.9 472.2,122.4 472.2,122.4 472.3,122.3 472.3,122.5 472.3,121.7 472.3,121.7 472.3,121.3 472.4,121.3 472.4,121.2 472.4,121.1 472.4,121.2 472.4,120.4 472.5,120.4 472.5,119.9 472.5,119.8 472.5,119.8 472.6,120.0 472.6,119.3 472.6,119.1 472.6,119.3 472.7,119.1 472.7,118.4 472.7,118.2 472.7,117.8 472.8,117.8 472.8,117.5 472.8,117.6 472.8,116.8 472.9,116.9 472.9,117.0 472.9,116.9 472.9,116.7 473.0,116.4 473.0,115.9 473.0,115.9 473.0,116.1 473.0,115.3 473.1,115.2 473.1,115.5 473.1,115.3 473.1,114.8 473.2,114.6 473.2,114.4 473.2,114.3 473.2,113.8 473.3,113.8 473.3,113.6 473.3,113.4 473.3,113.2 473.4,112.9 473.4,112.6 473.4,112.6 473.4,112.0 473.5,112.3 473.5,111.7 473.5,112.0 473.6,112.0 473.6,111.7 473.6,111.8 473.6,110.8 473.7,110.8 473.7,111.1 473.7,110.7 473.7,110.5 473.8,109.3 473.8,109.6 473.8,109.8 473.9,109.6 473.9,109.9 473.9,109.2 473.9,108.8 474.0,108.7 474.0,107.9 474.0,108.5 474.0,108.3 474.1,107.9 474.1,107.0 474.1,107.0 474.2,107.1 474.2,107.2 474.2,107.3 474.2,106.7 474.3,106.8 474.3,106.2 474.3,106.2 474.3,105.9 474.4,106.1 474.4,105.1 474.4,105.5 474.5,105.0 474.5,105.2 474.5,104.8 474.5,104.8 474.6,104.3 474.6,104.1 474.6,103.7 474.7,104.2 474.7,104.1 474.7,102.9 474.8,103.4 474.8,102.7 474.9,103.0 474.9,102.5 474.9,102.1 475.0,102.3 475.0,102.2 475.1,102.0 475.1,101.6 475.1,101.4 475.2,101.2 475.2,100.4 475.2,100.1 475.3,100.5 475.3,100.5 475.4,101.1 475.4,100.4 475.4,99.6 475.5,100.2 475.5,99.0 475.6,99.2 475.6,98.8 475.6,98.6 475.7,98.1 475.7,98.6 475.8,98.4 475.8,97.5 475.9,97.1 475.9,97.6 476.0,97.9 476.0,97.2 476.1,97.2 476.1,96.6 476.2,96.4 476.2,96.4 476.3,96.4 476.3,95.8 476.4,96.0 476.4,95.3 476.5,95.4 476.5,94.7 476.6,94.9 476.6,94.4 476.7,94.6 476.7,94.9 476.8,94.4 476.8,95.1 476.9,93.9 476.9,93.4 477.0,93.7 477.0,93.9 477.1,92.8 477.2,93.1 477.3,92.8 477.3,92.0 477.4,92.0 477.5,91.7 477.6,92.6 477.6,92.2 477.7,92.1 477.8,91.4 477.9,91.5 477.9,91.1 478.0,91.1 478.1,90.7 478.2,90.7 478.2,90.7 478.3,90.3 478.4,90.2 478.5,90.1 478.6,90.1 478.6,89.8 478.7,89.2 478.8,88.1 478.9,89.1 479.0,89.0 479.1,88.6 479.1,88.1 479.2,88.4 479.3,88.1 479.4,88.0 479.5,88.1 479.6,88.4 479.6,87.9 479.7,87.5 479.8,86.9 479.9,86.9 480.0,87.2 480.1,85.6 480.2,85.8 480.4,85.9 480.5,82.5 480.7,88.3 480.8,85.1 480.9,84.0 481.1,84.0 481.2,82.8 481.4,88.0 481.5,83.5 481.6,85.4 481.8,83.8 481.9,83.3 482.1,86.2 482.2,86.0 482.3,82.6 482.5,86.1 482.7,82.6 482.8,84.3 483.0,84.9 483.2,83.5 483.3,80.0 483.5,82.8 483.7,84.6 483.8,82.4 484.0,83.0 484.2,83.1 484.3,82.5 484.5,81.8 484.7,84.9 484.8,82.3 485.0,82.6 485.2,81.7 485.3,80.9 485.5,79.5 485.7,80.8 485.9,79.4 486.0,81.0 486.2,81.5 486.4,83.8 486.6,79.4 486.8,80.1 487.0,81.7 487.2,80.6 487.3,82.6 487.5,82.0 487.7,87.3 487.9,84.5 488.1,81.1 488.3,83.0 488.4,82.9 488.6,78.9 488.8,80.9 489.0,87.8 489.2,76.2 489.4,79.7 489.6,79.7 489.7,80.8 489.9,78.8 490.1,78.9 490.3,81.8 490.5,78.7 490.7,79.5 490.8,81.2 491.0,88.1 491.2,81.6 491.4,79.8 491.6,78.5 491.8,82.6 491.9,79.2 492.1,80.1 492.3,77.0 492.5,80.5 492.7,82.8 492.9,80.0 493.1,76.2 493.2,79.3 493.4,79.8 493.6,76.0 493.8,86.6 494.0,81.3 494.2,77.8 494.3,79.9 494.5,77.0 494.7,76.2 494.9,75.6 495.1,76.3 495.3,77.8 495.5,77.8 495.7,81.0 495.8,77.8 496.0,77.8 496.2,77.4 496.4,75.2 496.6,77.4 496.8,77.8 497.0,73.3 497.2,75.3 497.4,79.8 497.6,79.1 497.8,76.8 498.0,77.7 498.1,75.4 498.3,77.1 498.5,76.6 498.7,74.4 498.9,77.2 499.1,78.3 499.3,74.0 499.5,78.4 499.7,79.1 499.9,75.6 500.1,74.2 500.3,78.6 500.5,71.2 500.6,74.0 500.8,78.1 501.0,76.9 501.2,75.6 501.4,75.9 501.6,77.2 501.8,74.7 502.0,77.4 502.2,75.6 502.4,75.2 502.6,75.4 502.8,74.6 503.0,76.8 503.2,70.3 503.4,80.5 503.6,71.4 503.8,77.7 504.0,77.6 504.2,76.3 504.4,76.7 504.6,79.3 504.8,75.9 505.0,77.6 505.2,76.3 505.3,77.5 505.5,74.4 505.7,76.0 505.9,74.6 506.1,74.9 506.3,75.6 506.5,77.0 506.7,79.9 506.9,74.8 507.1,78.8 507.3,76.7 507.5,75.1 507.7,73.5 507.9,74.0 508.1,77.0 508.3,75.5 508.5,73.8 508.7,76.7 508.9,72.9 509.1,76.4 509.3,75.9 509.5,75.9 509.7,74.9 509.9,70.2 510.1,75.2 510.3,74.0 510.5,73.1 510.7,74.3 510.9,72.8 511.1,73.8 511.3,71.8 511.5,73.4 511.7,74.5 511.9,73.9 512.1,75.6 512.3,70.9 512.5,72.9 512.7,72.8 512.9,74.7 513.1,72.3 513.3,73.3 513.5,72.9 513.7,84.2 513.8,71.5 514.0,75.1 514.2,72.5 514.4,71.9 514.6,72.9 514.8,76.5 515.0,71.1 515.2,70.0 515.4,72.7 515.6,77.3 515.8,76.2 516.0,73.7 516.2,73.4 516.4,72.5 516.6,72.8 516.8,74.4 517.0,74.7 517.2,75.8 517.4,73.2 517.6,75.2 517.8,70.8 518.0,67.4 518.2,69.1 518.4,72.6 518.6,72.1 518.8,69.8 519.0,68.0 519.2,72.3 519.4,73.9 519.6,73.6 519.8,71.8 520.0,72.5 520.2,75.0 520.4,73.4 520.6,79.4 520.8,73.1 521.0,69.3 521.2,75.4 521.4,74.5 521.6,74.4 521.8,74.2 522.0,75.0 522.2,73.2 522.4,72.5 522.6,71.6 522.8,74.4 523.0,73.4 523.2,73.7 523.4,74.4 523.6,76.0 523.8,70.3 524.0,73.7 524.2,71.0 524.4,73.0 524.6,73.7 524.8,71.2 525.0,74.3 525.2,73.1 525.4,72.9 525.6,72.2 525.8,77.6 526.0,71.8 526.2,73.4 526.4,72.4 526.6,70.8 526.8,73.6 527.0,71.3 527.2,75.4 527.4,69.5 527.6,74.7 527.8,71.5 528.0,71.6 528.2,73.3 528.4,72.8 528.6,73.3 528.8,74.3 529.0,68.9 529.2,72.2 529.4,71.4 529.6,74.8 529.8,67.9 530.0,70.3 530.2,74.8 530.4,75.4 530.6,73.2 530.8,73.3 531.0,72.5 531.2,70.1 531.4,70.6 531.6,71.7 531.8,67.2 532.0,72.9 532.2,71.7 532.4,75.8 532.6,71.9 532.8,71.9 533.0,72.3 533.2,68.0 533.4,71.5 533.6,69.8 533.8,80.6 534.0,73.7 534.2,71.7 534.4,72.8 534.6,74.9 534.8,69.3 535.0,70.5 535.2,71.4 535.4,74.3 535.6,70.8 535.8,72.1 536.0,67.9 536.2,75.8 536.4,75.5 536.6,71.2 536.8,74.9 537.0,70.2 537.2,68.9 537.4,69.5 537.6,69.9 537.8,70.5 538.0,73.8 538.2,72.1 538.4,73.3 538.6,70.6 538.8,72.6 539.0,74.0 539.2,70.1 539.4,73.0 539.6,67.3 539.8,75.5 540.0,71.6 540.2,73.2 540.4,71.5 540.6,71.2 540.8,75.4 541.0,72.0 541.2,71.7 541.4,71.4 541.6,72.3 541.8,72.0 542.0,68.6 542.2,76.4 542.4,71.9 542.6,73.7 542.8,73.8 543.0,67.6 543.2,72.6 543.4,72.5 543.6,72.2 543.8,72.1 544.0,76.4 544.2,71.3 544.4,75.8 544.6,75.8 544.8,70.1 545.0,75.7 545.2,71.7 545.4,73.7 545.6,71.1 545.8,72.5 546.0,72.6 546.2,69.7 546.4,72.9 546.6,76.5 546.8,70.9 547.0,72.9 547.2,71.9 547.4,68.3 547.6,73.6 547.8,71.2 548.0,72.9 548.2,66.0 548.4,71.7 548.6,71.9 548.8,69.4 549.0,73.2 549.2,71.7 549.4,71.6 549.6,69.9 549.8,73.3 550.0,74.2 550.2,71.6 550.4,71.7 550.6,71.1 550.8,71.0 551.0,69.9 551.2,73.0 551.4,75.9 551.6,75.2 551.8,72.6 552.0,70.2 552.2,73.3 552.4,71.3 552.6,73.7 552.8,72.0 553.0,72.2 553.2,71.3 553.4,72.1 553.6,70.4 553.8,69.9 554.0,70.1 554.2,71.3 554.4,70.5 554.6,68.8 554.8,70.8 555.0,74.2 555.2,71.4 555.4,70.9 555.6,69.7 555.8,70.6 556.0,70.4 556.2,75.1 556.4,70.1 556.6,70.4 556.8,73.8 557.0,73.7 557.2,71.3 557.4,68.5 557.6,75.9 557.8,71.5 558.0,68.1 558.2,70.6 558.4,72.3 558.6,72.2 558.8,70.6 559.0,69.0 559.2,66.8 559.4,76.3 559.6,70.5 559.8,68.2 560.0,70.4 560.2,74.4" fill="none" stroke="#000" stroke-width="0.85" stroke-linejoin="round"/>
<g stroke="#000" stroke-width="1.5" fill="none">
<path d="M67.7 222.7V370.5H167.5"/>
<path d="M61.9 357.9H67.7"/>
<path d="M61.9 290.7H67.7"/>
<path d="M61.9 223.5H67.7"/>
<path d="M96.3 370.5V377M138.6 370.5V377"/>
</g>
<g class="t" font-size="11.2" text-anchor="end">
<text x="60.1" y="361.9">0</text>
<text x="60.1" y="294.7">50</text>
<text x="60.1" y="227.5">100</text>
</g>
<text class="t" font-size="11.2" text-anchor="middle" transform="translate(33.9,296.2) rotate(-90)">% inhibition</text>
<line x1="96.3" y1="232.0" x2="138.6" y2="362.6" stroke="#000" stroke-width="1.1"/>
<line x1="96.3" y1="234.7" x2="138.6" y2="361.0" stroke="#000" stroke-width="1.1"/>
<line x1="96.3" y1="249.6" x2="138.6" y2="358.8" stroke="#000" stroke-width="1.1"/>
<line x1="96.3" y1="250.4" x2="138.6" y2="350.6" stroke="#000" stroke-width="0.8"/>
<line x1="96.3" y1="254.0" x2="138.6" y2="336.7" stroke="#000" stroke-width="0.8"/>
<circle cx="96.3" cy="232.0" r="2.1"/><circle cx="138.6" cy="362.6" r="2.1"/>
<circle cx="96.3" cy="234.7" r="2.1"/><circle cx="138.6" cy="361.0" r="2.1"/>
<circle cx="96.3" cy="249.6" r="2.1"/><circle cx="138.6" cy="358.8" r="2.1"/>
<circle cx="96.3" cy="250.4" r="2.1"/><circle cx="138.6" cy="350.6" r="2.1"/>
<circle cx="96.3" cy="254.0" r="2.1"/><circle cx="138.6" cy="336.7" r="2.1"/>
<text class="t" font-size="11.2" text-anchor="end" transform="translate(97.2,388.2) rotate(-45)">escitalopram</text>
<text class="t" font-size="11.2" text-anchor="end" transform="translate(142.0,386.9) rotate(-45)">Baihe</text>
<g stroke="#000" stroke-width="1.5" fill="none">
<path d="M205.0 222.7V370.5H304.8"/>
<path d="M199.2 357.9H205.0"/>
<path d="M199.2 290.7H205.0"/>
<path d="M199.2 223.5H205.0"/>
<path d="M233.6 370.5V377M275.9 370.5V377"/>
</g>
<g class="t" font-size="11.2" text-anchor="end">
<text x="197.4" y="361.9">0</text>
<text x="197.4" y="294.7">50</text>
<text x="197.4" y="227.5">100</text>
</g>
<text class="t" font-size="11.2" text-anchor="middle" transform="translate(171.2,296.2) rotate(-90)">% inhibition</text>
<line x1="233.6" y1="232.0" x2="275.9" y2="351.7" stroke="#000" stroke-width="0.8"/>
<line x1="233.6" y1="234.7" x2="275.9" y2="353.9" stroke="#000" stroke-width="0.8"/>
<line x1="233.6" y1="249.8" x2="275.9" y2="356.4" stroke="#000" stroke-width="0.8"/>
<line x1="233.6" y1="254.0" x2="275.9" y2="359.5" stroke="#000" stroke-width="0.8"/>
<circle cx="233.6" cy="232.0" r="2.1"/><circle cx="275.9" cy="351.7" r="2.1"/>
<circle cx="233.6" cy="234.7" r="2.1"/><circle cx="275.9" cy="353.9" r="2.1"/>
<circle cx="233.6" cy="249.8" r="2.1"/><circle cx="275.9" cy="356.4" r="2.1"/>
<circle cx="233.6" cy="254.0" r="2.1"/><circle cx="275.9" cy="359.5" r="2.1"/>
<text class="t" font-size="11.2" text-anchor="end" transform="translate(234.5,388.2) rotate(-45)">escitalopram</text>
<text class="t" font-size="11.2" text-anchor="end" transform="translate(279.3,386.9) rotate(-45)">Da Zao</text>
<g stroke="#000" stroke-width="1.5" fill="none">
<path d="M346.6 222.7V370.5H446.4"/>
<path d="M340.8 357.9H346.6"/>
<path d="M340.8 290.7H346.6"/>
<path d="M340.8 223.5H346.6"/>
<path d="M375.2 370.5V377M417.5 370.5V377"/>
</g>
<g class="t" font-size="11.2" text-anchor="end">
<text x="339.0" y="361.9">0</text>
<text x="339.0" y="294.7">50</text>
<text x="339.0" y="227.5">100</text>
</g>
<text class="t" font-size="11.2" text-anchor="middle" transform="translate(312.8,296.2) rotate(-90)">% inhibition</text>
<line x1="375.2" y1="223.0" x2="417.5" y2="340.2" stroke="#000" stroke-width="0.8"/>
<line x1="375.2" y1="228.3" x2="417.5" y2="360.1" stroke="#000" stroke-width="0.8"/>
<line x1="375.2" y1="234.5" x2="417.5" y2="342.8" stroke="#000" stroke-width="0.8"/>
<line x1="375.2" y1="241.6" x2="417.5" y2="345.9" stroke="#000" stroke-width="0.8"/>
<line x1="375.2" y1="244.1" x2="417.5" y2="348.5" stroke="#000" stroke-width="0.8"/>
<line x1="375.2" y1="250.9" x2="417.5" y2="351.0" stroke="#000" stroke-width="0.8"/>
<line x1="375.2" y1="254.5" x2="417.5" y2="347.1" stroke="#000" stroke-width="0.8"/>
<line x1="375.2" y1="270.9" x2="417.5" y2="351.0" stroke="#000" stroke-width="0.8"/>
<line x1="375.2" y1="279.7" x2="417.5" y2="364.2" stroke="#000" stroke-width="0.8"/>
<circle cx="375.2" cy="223.0" r="2.1"/><circle cx="417.5" cy="340.2" r="2.1"/>
<circle cx="375.2" cy="228.3" r="2.1"/><circle cx="417.5" cy="360.1" r="2.1"/>
<circle cx="375.2" cy="234.5" r="2.1"/><circle cx="417.5" cy="342.8" r="2.1"/>
<circle cx="375.2" cy="241.6" r="2.1"/><circle cx="417.5" cy="345.9" r="2.1"/>
<circle cx="375.2" cy="244.1" r="2.1"/><circle cx="417.5" cy="348.5" r="2.1"/>
<circle cx="375.2" cy="250.9" r="2.1"/><circle cx="417.5" cy="351.0" r="2.1"/>
<circle cx="375.2" cy="254.5" r="2.1"/><circle cx="417.5" cy="347.1" r="2.1"/>
<circle cx="375.2" cy="270.9" r="2.1"/><circle cx="417.5" cy="351.0" r="2.1"/>
<circle cx="375.2" cy="279.7" r="2.1"/><circle cx="417.5" cy="364.2" r="2.1"/>
<text class="t" font-size="11.2" text-anchor="end" transform="translate(376.1,388.2) rotate(-45)">escitalopram</text>
<text class="t" font-size="11.2" text-anchor="end" transform="translate(420.9,386.9) rotate(-45)">Fu Xiao Mai</text>
<g stroke="#000" stroke-width="1.5" fill="none">
<path d="M466.5 222.7V370.5H566.3"/>
<path d="M460.7 357.9H466.5"/>
<path d="M460.7 290.7H466.5"/>
<path d="M460.7 223.5H466.5"/>
<path d="M495.1 370.5V377M537.4 370.5V377"/>
</g>
<g class="t" font-size="11.2" text-anchor="end">
<text x="458.9" y="361.9">0</text>
<text x="458.9" y="294.7">50</text>
<text x="458.9" y="227.5">100</text>
</g>
<text class="t" font-size="11.2" text-anchor="middle" transform="translate(432.7,296.2) rotate(-90)">% inhibition</text>
<line x1="495.1" y1="228.3" x2="537.4" y2="333.8" stroke="#000" stroke-width="0.8"/>
<line x1="495.1" y1="231.7" x2="537.4" y2="336.9" stroke="#000" stroke-width="0.8"/>
<line x1="495.1" y1="233.8" x2="537.4" y2="351.0" stroke="#000" stroke-width="1.1"/>
<line x1="495.1" y1="242.0" x2="537.4" y2="348.5" stroke="#000" stroke-width="0.8"/>
<line x1="495.1" y1="244.9" x2="537.4" y2="351.0" stroke="#000" stroke-width="1.1"/>
<line x1="495.1" y1="247.6" x2="537.4" y2="352.7" stroke="#000" stroke-width="0.8"/>
<line x1="495.1" y1="250.4" x2="537.4" y2="352.7" stroke="#000" stroke-width="1.1"/>
<line x1="495.1" y1="253.1" x2="537.4" y2="351.0" stroke="#000" stroke-width="0.8"/>
<line x1="495.1" y1="254.9" x2="537.4" y2="361.1" stroke="#000" stroke-width="0.8"/>
<circle cx="495.1" cy="228.3" r="2.1"/><circle cx="537.4" cy="333.8" r="2.1"/>
<circle cx="495.1" cy="231.7" r="2.1"/><circle cx="537.4" cy="336.9" r="2.1"/>
<circle cx="495.1" cy="233.8" r="2.1"/><circle cx="537.4" cy="351.0" r="2.1"/>
<circle cx="495.1" cy="242.0" r="2.1"/><circle cx="537.4" cy="348.5" r="2.1"/>
<circle cx="495.1" cy="244.9" r="2.1"/><circle cx="537.4" cy="351.0" r="2.1"/>
<circle cx="495.1" cy="247.6" r="2.1"/><circle cx="537.4" cy="352.7" r="2.1"/>
<circle cx="495.1" cy="250.4" r="2.1"/><circle cx="537.4" cy="352.7" r="2.1"/>
<circle cx="495.1" cy="253.1" r="2.1"/><circle cx="537.4" cy="351.0" r="2.1"/>
<circle cx="495.1" cy="254.9" r="2.1"/><circle cx="537.4" cy="361.1" r="2.1"/>
<text class="t" font-size="11.2" text-anchor="end" transform="translate(496.0,388.2) rotate(-45)">escitalopram</text>
<text class="t" font-size="11.2" text-anchor="end" transform="translate(540.8,386.9) rotate(-45)">Shan Zha</text>
<g stroke="#000" stroke-width="1.5" fill="none">
<path d="M636.9 218.6V358.8H778"/>
<path d="M631.9 358.8H636.9"/>
<path d="M631.9 337.2H636.9"/>
<path d="M631.9 315.7H636.9"/>
<path d="M631.9 294.2H636.9"/>
<path d="M631.9 272.6H636.9"/>
<path d="M631.9 251.1H636.9"/>
<path d="M631.9 229.5H636.9"/>
</g>
<g class="t" font-size="10.7" text-anchor="end">
<text x="630.5" y="362.5">0</text>
<text x="630.5" y="340.9">20</text>
<text x="630.5" y="319.4">40</text>
<text x="630.5" y="297.9">60</text>
<text x="630.5" y="276.3">80</text>
<text x="630.5" y="254.8">100</text>
<text x="630.5" y="233.2">120</text>
</g>
<text class="t" font-size="10.7" transform="translate(605.2,366.2) rotate(-90)" xml:space="preserve">SERT  levels (fmol/mg protein)</text>
<path d="M650.4 239.4V246.2M647.5 239.4H653.3" stroke="#333" stroke-width="0.8" fill="none"/>
<rect x="644.85" y="246.2" width="11.1" height="112.6" fill="#fff" stroke="#000" stroke-width="1.8"/>
<path d="M650.4 246.2V251.2M647.5 251.2H653.3" stroke="#333" stroke-width="0.8" fill="none"/>
<path d="M650.4 358.8V364.6" stroke="#000" stroke-width="1.5"/>
<text class="t" font-size="10.7" text-anchor="end" transform="translate(653.4,374) rotate(-45)">Saline</text>
<path d="M669.4 253.9V259.3M666.5 253.9H672.3" stroke="#333" stroke-width="0.8" fill="none"/>
<rect x="663.85" y="259.3" width="11.1" height="99.5" fill="#000" stroke="#000" stroke-width="1.8"/>
<path d="M669.4 358.8V364.6" stroke="#000" stroke-width="1.5"/>
<text class="t" font-size="10.7" text-anchor="end" transform="translate(672.4,374) rotate(-45)">Escitalopram</text>
<path d="M688.4 235.6V242.9M685.5 235.6H691.3" stroke="#333" stroke-width="0.8" fill="none"/>
<rect x="682.85" y="242.9" width="11.1" height="115.9" fill="#a6a6a6" stroke="#000" stroke-width="1.8"/>
<path d="M688.4 242.9V247.2M685.5 247.2H691.3" stroke="#333" stroke-width="0.8" fill="none"/>
<path d="M688.4 358.8V364.6" stroke="#000" stroke-width="1.5"/>
<text class="t" font-size="10.7" text-anchor="end" transform="translate(691.4,374) rotate(-45)">NHT</text>
<path d="M707.4 224.3V232.5M704.5 224.3H710.3" stroke="#333" stroke-width="0.8" fill="none"/>
<rect x="701.85" y="232.5" width="11.1" height="126.3" fill="url(#pchk)" stroke="#000" stroke-width="1.8"/>
<path d="M707.4 232.5V237.5M704.5 237.5H710.3" stroke="#333" stroke-width="0.8" fill="none"/>
<path d="M707.4 358.8V364.6" stroke="#000" stroke-width="1.5"/>
<text class="t" font-size="10.7" text-anchor="end" transform="translate(710.4,374) rotate(-45)">Shan Zha</text>
<path d="M726.4 238.3V244.8M723.5 238.3H729.3" stroke="#333" stroke-width="0.8" fill="none"/>
<rect x="720.85" y="244.8" width="11.1" height="114.0" fill="url(#pdot)" stroke="#000" stroke-width="1.8"/>
<path d="M726.4 244.8V248.5M723.5 248.5H729.3" stroke="#333" stroke-width="0.8" fill="none"/>
<path d="M726.4 358.8V364.6" stroke="#000" stroke-width="1.5"/>
<text class="t" font-size="10.7" text-anchor="end" transform="translate(729.4,374) rotate(-45)">Fu Xiao Mai</text>
<path d="M745.4 237.5V245.1M742.5 237.5H748.3" stroke="#333" stroke-width="0.8" fill="none"/>
<rect x="739.85" y="245.1" width="11.1" height="113.7" fill="url(#gvs)" stroke="#000" stroke-width="1.8"/>
<path d="M745.4 245.1V250.3M742.5 250.3H748.3" stroke="#333" stroke-width="0.8" fill="none"/>
<path d="M745.4 358.8V364.6" stroke="#000" stroke-width="1.5"/>
<text class="t" font-size="10.7" text-anchor="end" transform="translate(748.4,374) rotate(-45)">Da Zao</text>
<path d="M764.4 236.2V241.1M761.5 236.2H767.3" stroke="#333" stroke-width="0.8" fill="none"/>
<rect x="758.85" y="241.1" width="11.1" height="117.7" fill="url(#phs)" stroke="#000" stroke-width="1.8"/>
<path d="M764.4 241.1V243.2M761.5 243.2H767.3" stroke="#333" stroke-width="0.8" fill="none"/>
<path d="M764.4 358.8V364.6" stroke="#000" stroke-width="1.5"/>
<text class="t" font-size="10.7" text-anchor="end" transform="translate(767.4,374) rotate(-45)">Baihe</text>
<text x="669.7" y="228.2" font-size="17" text-anchor="middle">*</text>
</svg></body></html>
